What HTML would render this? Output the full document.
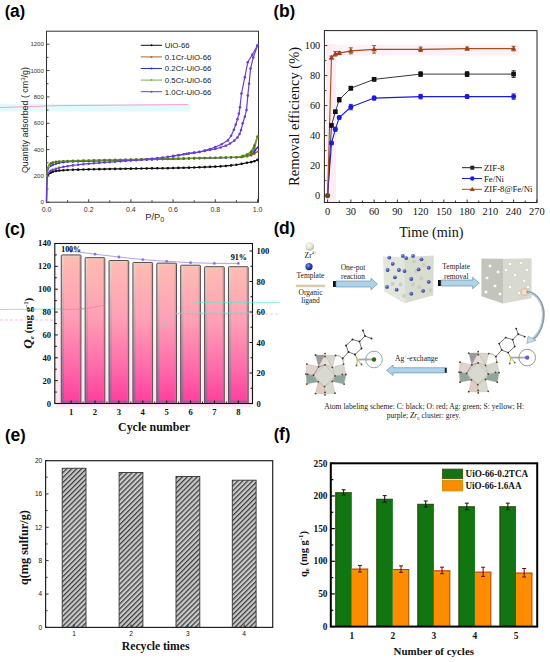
<!DOCTYPE html>
<html><head><meta charset="utf-8"><title>Figure</title><style>
html,body{margin:0;padding:0;background:#fff;}
svg{display:block;}
.s{font-family:"Liberation Sans",sans-serif;}
.lb{font-family:"Liberation Sans",sans-serif;font-weight:bold;}
.r{font-family:"Liberation Serif",serif;}
.rb{font-family:"Liberation Serif",serif;font-weight:bold;}
</style></head><body>
<svg width="550" height="662" viewBox="0 0 550 662">
<rect width="550" height="662" fill="#fff"/>
<defs>
<linearGradient id="cbar" x1="0" y1="0" x2="0" y2="1"><stop offset="0" stop-color="#febcb2"/><stop offset="0.4" stop-color="#ffa0b6"/><stop offset="0.75" stop-color="#ff6aaa"/><stop offset="1" stop-color="#ff3c9e"/></linearGradient>
<linearGradient id="cedge" x1="0" y1="0" x2="0" y2="1"><stop offset="0" stop-color="#e6d4c8"/><stop offset="0.5" stop-color="#c09aa8"/><stop offset="1" stop-color="#96609a"/></linearGradient>
<linearGradient id="cbg" x1="0" y1="0" x2="0" y2="1"><stop offset="0" stop-color="#ffffff"/><stop offset="0.5" stop-color="#fff6fa"/><stop offset="1" stop-color="#fde0f0"/></linearGradient>
<radialGradient id="gzr" cx="0.4" cy="0.35" r="0.7"><stop offset="0" stop-color="#fbfbf2"/><stop offset="0.6" stop-color="#e2e0cc"/><stop offset="1" stop-color="#a8a690"/></radialGradient>
<radialGradient id="gbl" cx="0.4" cy="0.35" r="0.7"><stop offset="0" stop-color="#7a9aff"/><stop offset="0.5" stop-color="#2a48b8"/><stop offset="1" stop-color="#0a1a60"/></radialGradient>
<radialGradient id="gbl2" cx="0.4" cy="0.35" r="0.7"><stop offset="0" stop-color="#98a8f0"/><stop offset="0.5" stop-color="#4858b4"/><stop offset="1" stop-color="#2a3480"/></radialGradient>
<pattern id="hatch" patternUnits="userSpaceOnUse" width="3.5" height="3.5" patternTransform="rotate(45)"><rect width="3.5" height="3.5" fill="#cacaca"/><rect width="1.25" height="3.5" fill="#3c3c3c"/></pattern>
</defs>
<text class="lb" x="4.7" y="17" font-size="16.2">(<tspan font-size="17.5">a</tspan>)</text>
<text class="lb" x="273.6" y="17.4" font-size="16.2">(<tspan font-size="17.5">b</tspan>)</text>
<text class="lb" x="4.7" y="234.5" font-size="16.2">(<tspan font-size="17.5">c</tspan>)</text>
<text class="lb" x="273.7" y="234.4" font-size="16.2">(<tspan font-size="17.5">d</tspan>)</text>
<text class="lb" x="5.1" y="440.5" font-size="16.2">(<tspan font-size="17.5">e</tspan>)</text>
<text class="lb" x="273.7" y="440.3" font-size="16.2">(<tspan font-size="17.5">f</tspan>)</text>
<rect x="0" y="104" width="190" height="7.6" fill="#e2fafa"/>
<polyline points="0,107.6 30,106.5 60,105.6 188,104.6" fill="none" stroke="#ff9ad8" stroke-width="1"/>
<rect x="46.5" y="31.2" width="212" height="171" fill="none" stroke="#333" stroke-width="1"/>
<line x1="46.5" y1="202.3" x2="49.5" y2="202.3" stroke="#333" stroke-width="0.9"/>
<line x1="46.5" y1="189.12" x2="48.5" y2="189.12" stroke="#333" stroke-width="0.9"/>
<line x1="46.5" y1="175.95" x2="49.5" y2="175.95" stroke="#333" stroke-width="0.9"/>
<line x1="46.5" y1="162.78" x2="48.5" y2="162.78" stroke="#333" stroke-width="0.9"/>
<line x1="46.5" y1="149.6" x2="49.5" y2="149.6" stroke="#333" stroke-width="0.9"/>
<line x1="46.5" y1="136.43" x2="48.5" y2="136.43" stroke="#333" stroke-width="0.9"/>
<line x1="46.5" y1="123.25" x2="49.5" y2="123.25" stroke="#333" stroke-width="0.9"/>
<line x1="46.5" y1="110.08" x2="48.5" y2="110.08" stroke="#333" stroke-width="0.9"/>
<line x1="46.5" y1="96.9" x2="49.5" y2="96.9" stroke="#333" stroke-width="0.9"/>
<line x1="46.5" y1="83.73" x2="48.5" y2="83.73" stroke="#333" stroke-width="0.9"/>
<line x1="46.5" y1="70.55" x2="49.5" y2="70.55" stroke="#333" stroke-width="0.9"/>
<line x1="46.5" y1="57.38" x2="48.5" y2="57.38" stroke="#333" stroke-width="0.9"/>
<line x1="46.5" y1="44.2" x2="49.5" y2="44.2" stroke="#333" stroke-width="0.9"/>
<line x1="46.5" y1="202.2" x2="46.5" y2="199.2" stroke="#333" stroke-width="0.9"/>
<line x1="67.6" y1="202.2" x2="67.6" y2="200.2" stroke="#333" stroke-width="0.9"/>
<line x1="88.7" y1="202.2" x2="88.7" y2="199.2" stroke="#333" stroke-width="0.9"/>
<line x1="109.8" y1="202.2" x2="109.8" y2="200.2" stroke="#333" stroke-width="0.9"/>
<line x1="130.9" y1="202.2" x2="130.9" y2="199.2" stroke="#333" stroke-width="0.9"/>
<line x1="152" y1="202.2" x2="152" y2="200.2" stroke="#333" stroke-width="0.9"/>
<line x1="173.1" y1="202.2" x2="173.1" y2="199.2" stroke="#333" stroke-width="0.9"/>
<line x1="194.2" y1="202.2" x2="194.2" y2="200.2" stroke="#333" stroke-width="0.9"/>
<line x1="215.3" y1="202.2" x2="215.3" y2="199.2" stroke="#333" stroke-width="0.9"/>
<line x1="236.4" y1="202.2" x2="236.4" y2="200.2" stroke="#333" stroke-width="0.9"/>
<line x1="257.5" y1="202.2" x2="257.5" y2="199.2" stroke="#333" stroke-width="0.9"/>
<text class="s" x="43.8" y="204.4" font-size="6" text-anchor="end" fill="#333">0</text>
<text class="s" x="43.8" y="178.05" font-size="6" text-anchor="end" fill="#333">200</text>
<text class="s" x="43.8" y="151.7" font-size="6" text-anchor="end" fill="#333">400</text>
<text class="s" x="43.8" y="125.35" font-size="6" text-anchor="end" fill="#333">600</text>
<text class="s" x="43.8" y="99" font-size="6" text-anchor="end" fill="#333">800</text>
<text class="s" x="43.8" y="72.65" font-size="6" text-anchor="end" fill="#333">1000</text>
<text class="s" x="43.8" y="46.3" font-size="6" text-anchor="end" fill="#333">1200</text>
<text class="s" x="46.5" y="212" font-size="7" text-anchor="middle" fill="#333">0.0</text>
<text class="s" x="88.7" y="212" font-size="7" text-anchor="middle" fill="#333">0.2</text>
<text class="s" x="130.9" y="212" font-size="7" text-anchor="middle" fill="#333">0.4</text>
<text class="s" x="173.1" y="212" font-size="7" text-anchor="middle" fill="#333">0.6</text>
<text class="s" x="215.3" y="212" font-size="7" text-anchor="middle" fill="#333">0.8</text>
<text class="s" x="257.5" y="212" font-size="7" text-anchor="middle" fill="#333">1.0</text>
<text class="s" x="145.2" y="219.7" font-size="9.4" fill="#2a2a2a">P/P<tspan font-size="7" dy="2.6">0</tspan></text>
<text class="s" x="28.1" y="120.1" font-size="8.9" text-anchor="middle" fill="#1a1a1a" textLength="106" lengthAdjust="spacingAndGlyphs" transform="rotate(-90 28.1 120.1)">Quantity adsorbed ( cm<tspan font-size="6" dy="-3">3</tspan><tspan dy="3">/g)</tspan></text>
<polyline points="46.5,202.3 46.71,186.49 47.13,179.24 47.77,175.95 49.03,173.97 50.72,172.66 52.83,171.73 55.99,170.94 59.16,170.55 63.38,170.28 67.6,170.02 72.88,169.76 78.15,169.63 83.42,169.49 88.7,169.36 93.97,169.23 99.25,169.16 104.53,169.1 109.8,168.97 115.08,168.9 120.35,168.84 125.62,168.7 130.9,168.64 136.18,168.57 141.45,168.51 146.72,168.44 152,168.37 157.28,168.31 162.55,168.24 167.82,168.18 173.1,168.05 178.38,167.91 183.65,167.78 188.93,167.65 194.2,167.52 199.47,167.32 204.75,167.12 210.03,166.86 215.3,166.6 220.57,166.33 225.85,165.94 231.12,165.41 236.4,164.75 241.68,163.83 246.95,162.78 251.17,162.12 254.34,161.19 257.5,159.88" fill="none" stroke="#111" stroke-width="1.2"/>
<circle cx="50.72" cy="172.66" r="1.3" fill="#111"/>
<circle cx="52.83" cy="171.73" r="1.3" fill="#111"/>
<circle cx="55.99" cy="170.94" r="1.3" fill="#111"/>
<circle cx="59.16" cy="170.55" r="1.3" fill="#111"/>
<circle cx="63.38" cy="170.28" r="1.3" fill="#111"/>
<circle cx="67.6" cy="170.02" r="1.3" fill="#111"/>
<circle cx="72.88" cy="169.76" r="1.3" fill="#111"/>
<circle cx="78.15" cy="169.63" r="1.3" fill="#111"/>
<circle cx="83.42" cy="169.49" r="1.3" fill="#111"/>
<circle cx="88.7" cy="169.36" r="1.3" fill="#111"/>
<circle cx="93.97" cy="169.23" r="1.3" fill="#111"/>
<circle cx="99.25" cy="169.16" r="1.3" fill="#111"/>
<circle cx="104.53" cy="169.1" r="1.3" fill="#111"/>
<circle cx="109.8" cy="168.97" r="1.3" fill="#111"/>
<circle cx="115.08" cy="168.9" r="1.3" fill="#111"/>
<circle cx="120.35" cy="168.84" r="1.3" fill="#111"/>
<circle cx="125.62" cy="168.7" r="1.3" fill="#111"/>
<circle cx="130.9" cy="168.64" r="1.3" fill="#111"/>
<circle cx="136.18" cy="168.57" r="1.3" fill="#111"/>
<circle cx="141.45" cy="168.51" r="1.3" fill="#111"/>
<circle cx="146.72" cy="168.44" r="1.3" fill="#111"/>
<circle cx="152" cy="168.37" r="1.3" fill="#111"/>
<circle cx="157.28" cy="168.31" r="1.3" fill="#111"/>
<circle cx="162.55" cy="168.24" r="1.3" fill="#111"/>
<circle cx="167.82" cy="168.18" r="1.3" fill="#111"/>
<circle cx="173.1" cy="168.05" r="1.3" fill="#111"/>
<circle cx="178.38" cy="167.91" r="1.3" fill="#111"/>
<circle cx="183.65" cy="167.78" r="1.3" fill="#111"/>
<circle cx="188.93" cy="167.65" r="1.3" fill="#111"/>
<circle cx="194.2" cy="167.52" r="1.3" fill="#111"/>
<circle cx="199.47" cy="167.32" r="1.3" fill="#111"/>
<circle cx="204.75" cy="167.12" r="1.3" fill="#111"/>
<circle cx="210.03" cy="166.86" r="1.3" fill="#111"/>
<circle cx="215.3" cy="166.6" r="1.3" fill="#111"/>
<circle cx="220.57" cy="166.33" r="1.3" fill="#111"/>
<circle cx="225.85" cy="165.94" r="1.3" fill="#111"/>
<circle cx="231.12" cy="165.41" r="1.3" fill="#111"/>
<circle cx="236.4" cy="164.75" r="1.3" fill="#111"/>
<circle cx="241.68" cy="163.83" r="1.3" fill="#111"/>
<circle cx="246.95" cy="162.78" r="1.3" fill="#111"/>
<circle cx="251.17" cy="162.12" r="1.3" fill="#111"/>
<circle cx="254.34" cy="161.19" r="1.3" fill="#111"/>
<circle cx="257.5" cy="159.88" r="1.3" fill="#111"/>
<polyline points="46.5,202.3 46.71,182.54 47.13,173.31 47.77,168.31 49.03,165.41 50.72,163.83 52.83,162.91 55.99,162.25 59.16,161.85 63.38,161.59 67.6,161.33 72.88,161.2 78.15,161.08 83.43,160.95 88.7,160.83 93.97,160.7 99.25,160.57 104.53,160.45 109.8,160.32 115.08,160.2 120.35,160.07 125.62,159.95 130.9,159.82 136.18,159.7 141.45,159.57 146.72,159.45 152,159.32 157.28,159.2 162.55,159.07 167.83,158.95 173.1,158.82 178.38,158.7 183.65,158.57 188.93,158.45 194.2,158.32 199.47,158.2 204.75,158.07 210.03,157.95 215.3,157.82 220.58,157.7 225.85,157.57 231.12,157.45 236.4,157.32 241.68,157.11 246.95,156.45 251.17,155.53 254.34,154.21 257.5,151.58 254.34,153.29 251.17,154.61 246.95,155.92" fill="none" stroke="#b5651d" stroke-width="1"/>
<circle cx="50.72" cy="163.83" r="1.1" fill="#b5651d"/>
<circle cx="52.83" cy="162.91" r="1.1" fill="#b5651d"/>
<circle cx="55.99" cy="162.25" r="1.1" fill="#b5651d"/>
<circle cx="59.16" cy="161.85" r="1.1" fill="#b5651d"/>
<circle cx="63.38" cy="161.59" r="1.1" fill="#b5651d"/>
<circle cx="67.6" cy="161.33" r="1.1" fill="#b5651d"/>
<circle cx="72.88" cy="161.2" r="1.1" fill="#b5651d"/>
<circle cx="78.15" cy="161.08" r="1.1" fill="#b5651d"/>
<circle cx="83.43" cy="160.95" r="1.1" fill="#b5651d"/>
<circle cx="88.7" cy="160.83" r="1.1" fill="#b5651d"/>
<circle cx="93.97" cy="160.7" r="1.1" fill="#b5651d"/>
<circle cx="99.25" cy="160.57" r="1.1" fill="#b5651d"/>
<circle cx="104.53" cy="160.45" r="1.1" fill="#b5651d"/>
<circle cx="109.8" cy="160.32" r="1.1" fill="#b5651d"/>
<circle cx="115.08" cy="160.2" r="1.1" fill="#b5651d"/>
<circle cx="120.35" cy="160.07" r="1.1" fill="#b5651d"/>
<circle cx="125.62" cy="159.95" r="1.1" fill="#b5651d"/>
<circle cx="130.9" cy="159.82" r="1.1" fill="#b5651d"/>
<circle cx="136.18" cy="159.7" r="1.1" fill="#b5651d"/>
<circle cx="141.45" cy="159.57" r="1.1" fill="#b5651d"/>
<circle cx="146.72" cy="159.45" r="1.1" fill="#b5651d"/>
<circle cx="152" cy="159.32" r="1.1" fill="#b5651d"/>
<circle cx="157.28" cy="159.2" r="1.1" fill="#b5651d"/>
<circle cx="162.55" cy="159.07" r="1.1" fill="#b5651d"/>
<circle cx="167.83" cy="158.95" r="1.1" fill="#b5651d"/>
<circle cx="173.1" cy="158.82" r="1.1" fill="#b5651d"/>
<circle cx="178.38" cy="158.7" r="1.1" fill="#b5651d"/>
<circle cx="183.65" cy="158.57" r="1.1" fill="#b5651d"/>
<circle cx="188.93" cy="158.45" r="1.1" fill="#b5651d"/>
<circle cx="194.2" cy="158.32" r="1.1" fill="#b5651d"/>
<circle cx="199.47" cy="158.2" r="1.1" fill="#b5651d"/>
<circle cx="204.75" cy="158.07" r="1.1" fill="#b5651d"/>
<circle cx="210.03" cy="157.95" r="1.1" fill="#b5651d"/>
<circle cx="215.3" cy="157.82" r="1.1" fill="#b5651d"/>
<circle cx="220.58" cy="157.7" r="1.1" fill="#b5651d"/>
<circle cx="225.85" cy="157.57" r="1.1" fill="#b5651d"/>
<circle cx="231.12" cy="157.45" r="1.1" fill="#b5651d"/>
<circle cx="236.4" cy="157.32" r="1.1" fill="#b5651d"/>
<circle cx="241.68" cy="157.11" r="1.1" fill="#b5651d"/>
<circle cx="246.95" cy="156.45" r="1.1" fill="#b5651d"/>
<circle cx="251.17" cy="155.53" r="1.1" fill="#b5651d"/>
<circle cx="254.34" cy="154.21" r="1.1" fill="#b5651d"/>
<circle cx="257.5" cy="151.58" r="1.1" fill="#b5651d"/>
<circle cx="254.34" cy="153.29" r="1.1" fill="#b5651d"/>
<circle cx="251.17" cy="154.61" r="1.1" fill="#b5651d"/>
<circle cx="246.95" cy="155.92" r="1.1" fill="#b5651d"/>
<polyline points="46.5,202.3 46.71,183.86 47.13,175.29 47.77,170.68 49.03,167.78 50.72,166.07 52.83,164.88 55.99,163.83 59.16,163.04 63.38,162.38 67.6,161.85 72.88,161.71 78.15,161.58 83.43,161.44 88.7,161.3 93.97,161.16 99.25,161.02 104.53,160.88 109.8,160.75 115.08,160.61 120.35,160.47 125.62,160.33 130.9,160.19 136.18,160.05 141.45,159.92 146.72,159.78 152,159.64 157.28,159.5 162.55,159.36 167.83,159.22 173.1,159.09 178.38,158.95 183.65,158.81 188.93,158.67 194.2,158.53 199.47,158.39 204.75,158.26 210.03,158.12 215.3,157.98 220.58,157.84 225.85,157.7 231.12,157.56 236.4,157.43 241.68,157.11 246.95,156.19 251.17,154.61 254.34,152.24 257.5,147.62 254.34,150.65 251.17,153.29 246.95,155.13" fill="none" stroke="#3030c8" stroke-width="1"/>
<circle cx="50.72" cy="166.07" r="1.1" fill="#3030c8"/>
<circle cx="52.83" cy="164.88" r="1.1" fill="#3030c8"/>
<circle cx="55.99" cy="163.83" r="1.1" fill="#3030c8"/>
<circle cx="59.16" cy="163.04" r="1.1" fill="#3030c8"/>
<circle cx="63.38" cy="162.38" r="1.1" fill="#3030c8"/>
<circle cx="67.6" cy="161.85" r="1.1" fill="#3030c8"/>
<circle cx="72.88" cy="161.71" r="1.1" fill="#3030c8"/>
<circle cx="78.15" cy="161.58" r="1.1" fill="#3030c8"/>
<circle cx="83.43" cy="161.44" r="1.1" fill="#3030c8"/>
<circle cx="88.7" cy="161.3" r="1.1" fill="#3030c8"/>
<circle cx="93.97" cy="161.16" r="1.1" fill="#3030c8"/>
<circle cx="99.25" cy="161.02" r="1.1" fill="#3030c8"/>
<circle cx="104.53" cy="160.88" r="1.1" fill="#3030c8"/>
<circle cx="109.8" cy="160.75" r="1.1" fill="#3030c8"/>
<circle cx="115.08" cy="160.61" r="1.1" fill="#3030c8"/>
<circle cx="120.35" cy="160.47" r="1.1" fill="#3030c8"/>
<circle cx="125.62" cy="160.33" r="1.1" fill="#3030c8"/>
<circle cx="130.9" cy="160.19" r="1.1" fill="#3030c8"/>
<circle cx="136.18" cy="160.05" r="1.1" fill="#3030c8"/>
<circle cx="141.45" cy="159.92" r="1.1" fill="#3030c8"/>
<circle cx="146.72" cy="159.78" r="1.1" fill="#3030c8"/>
<circle cx="152" cy="159.64" r="1.1" fill="#3030c8"/>
<circle cx="157.28" cy="159.5" r="1.1" fill="#3030c8"/>
<circle cx="162.55" cy="159.36" r="1.1" fill="#3030c8"/>
<circle cx="167.83" cy="159.22" r="1.1" fill="#3030c8"/>
<circle cx="173.1" cy="159.09" r="1.1" fill="#3030c8"/>
<circle cx="178.38" cy="158.95" r="1.1" fill="#3030c8"/>
<circle cx="183.65" cy="158.81" r="1.1" fill="#3030c8"/>
<circle cx="188.93" cy="158.67" r="1.1" fill="#3030c8"/>
<circle cx="194.2" cy="158.53" r="1.1" fill="#3030c8"/>
<circle cx="199.47" cy="158.39" r="1.1" fill="#3030c8"/>
<circle cx="204.75" cy="158.26" r="1.1" fill="#3030c8"/>
<circle cx="210.03" cy="158.12" r="1.1" fill="#3030c8"/>
<circle cx="215.3" cy="157.98" r="1.1" fill="#3030c8"/>
<circle cx="220.58" cy="157.84" r="1.1" fill="#3030c8"/>
<circle cx="225.85" cy="157.7" r="1.1" fill="#3030c8"/>
<circle cx="231.12" cy="157.56" r="1.1" fill="#3030c8"/>
<circle cx="236.4" cy="157.43" r="1.1" fill="#3030c8"/>
<circle cx="241.68" cy="157.11" r="1.1" fill="#3030c8"/>
<circle cx="246.95" cy="156.19" r="1.1" fill="#3030c8"/>
<circle cx="251.17" cy="154.61" r="1.1" fill="#3030c8"/>
<circle cx="254.34" cy="152.24" r="1.1" fill="#3030c8"/>
<circle cx="257.5" cy="147.62" r="1.1" fill="#3030c8"/>
<circle cx="254.34" cy="150.65" r="1.1" fill="#3030c8"/>
<circle cx="251.17" cy="153.29" r="1.1" fill="#3030c8"/>
<circle cx="246.95" cy="155.13" r="1.1" fill="#3030c8"/>
<polyline points="46.5,202.3 46.71,181.22 47.13,172 47.77,167.39 49.03,164.75 50.72,163.43 52.83,162.51 55.99,161.85 59.16,161.46 63.38,161.19 67.6,160.93 72.88,160.82 78.15,160.7 83.43,160.58 88.7,160.47 93.97,160.35 99.25,160.24 104.53,160.12 109.8,160.01 115.08,159.89 120.35,159.78 125.62,159.66 130.9,159.55 136.18,159.43 141.45,159.32 146.72,159.2 152,159.09 157.28,158.97 162.55,158.86 167.83,158.74 173.1,158.62 178.38,158.51 183.65,158.39 188.93,158.28 194.2,158.16 199.47,158.05 204.75,157.93 210.03,157.82 215.3,157.7 220.58,157.59 225.85,157.47 231.12,157.36 236.4,157.24 241.68,156.85 246.95,155.92 251.17,154.21 254.34,148.28 257.5,136.43 254.34,145.65 251.17,151.58 246.95,154.61 242.73,155.92" fill="none" stroke="#6a9c2c" stroke-width="1.5"/>
<circle cx="50.72" cy="163.43" r="1.3" fill="#56781c"/>
<circle cx="52.83" cy="162.51" r="1.3" fill="#56781c"/>
<circle cx="55.99" cy="161.85" r="1.3" fill="#56781c"/>
<circle cx="59.16" cy="161.46" r="1.3" fill="#56781c"/>
<circle cx="63.38" cy="161.19" r="1.3" fill="#56781c"/>
<circle cx="67.6" cy="160.93" r="1.3" fill="#56781c"/>
<circle cx="72.88" cy="160.82" r="1.3" fill="#56781c"/>
<circle cx="78.15" cy="160.7" r="1.3" fill="#56781c"/>
<circle cx="83.43" cy="160.58" r="1.3" fill="#56781c"/>
<circle cx="88.7" cy="160.47" r="1.3" fill="#56781c"/>
<circle cx="93.97" cy="160.35" r="1.3" fill="#56781c"/>
<circle cx="99.25" cy="160.24" r="1.3" fill="#56781c"/>
<circle cx="104.53" cy="160.12" r="1.3" fill="#56781c"/>
<circle cx="109.8" cy="160.01" r="1.3" fill="#56781c"/>
<circle cx="115.08" cy="159.89" r="1.3" fill="#56781c"/>
<circle cx="120.35" cy="159.78" r="1.3" fill="#56781c"/>
<circle cx="125.62" cy="159.66" r="1.3" fill="#56781c"/>
<circle cx="130.9" cy="159.55" r="1.3" fill="#56781c"/>
<circle cx="136.18" cy="159.43" r="1.3" fill="#56781c"/>
<circle cx="141.45" cy="159.32" r="1.3" fill="#56781c"/>
<circle cx="146.72" cy="159.2" r="1.3" fill="#56781c"/>
<circle cx="152" cy="159.09" r="1.3" fill="#56781c"/>
<circle cx="157.28" cy="158.97" r="1.3" fill="#56781c"/>
<circle cx="162.55" cy="158.86" r="1.3" fill="#56781c"/>
<circle cx="167.83" cy="158.74" r="1.3" fill="#56781c"/>
<circle cx="173.1" cy="158.62" r="1.3" fill="#56781c"/>
<circle cx="178.38" cy="158.51" r="1.3" fill="#56781c"/>
<circle cx="183.65" cy="158.39" r="1.3" fill="#56781c"/>
<circle cx="188.93" cy="158.28" r="1.3" fill="#56781c"/>
<circle cx="194.2" cy="158.16" r="1.3" fill="#56781c"/>
<circle cx="199.47" cy="158.05" r="1.3" fill="#56781c"/>
<circle cx="204.75" cy="157.93" r="1.3" fill="#56781c"/>
<circle cx="210.03" cy="157.82" r="1.3" fill="#56781c"/>
<circle cx="215.3" cy="157.7" r="1.3" fill="#56781c"/>
<circle cx="220.58" cy="157.59" r="1.3" fill="#56781c"/>
<circle cx="225.85" cy="157.47" r="1.3" fill="#56781c"/>
<circle cx="231.12" cy="157.36" r="1.3" fill="#56781c"/>
<circle cx="236.4" cy="157.24" r="1.3" fill="#56781c"/>
<circle cx="241.68" cy="156.85" r="1.3" fill="#56781c"/>
<circle cx="246.95" cy="155.92" r="1.3" fill="#56781c"/>
<circle cx="251.17" cy="154.21" r="1.3" fill="#56781c"/>
<circle cx="254.34" cy="148.28" r="1.3" fill="#56781c"/>
<circle cx="257.5" cy="136.43" r="1.3" fill="#56781c"/>
<circle cx="254.34" cy="145.65" r="1.3" fill="#56781c"/>
<circle cx="251.17" cy="151.58" r="1.3" fill="#56781c"/>
<circle cx="246.95" cy="154.61" r="1.3" fill="#56781c"/>
<circle cx="242.73" cy="155.92" r="1.3" fill="#56781c"/>
<polyline points="46.5,202.3 46.71,185.17 47.13,177.27 47.77,173.97 49.03,172 50.72,170.68 52.83,169.76 55.99,168.7 59.16,167.78 63.38,166.86 67.6,166.2 72.88,165.41 78.15,164.75 83.42,164.22 88.7,163.7 93.97,163.3 99.25,162.91 104.53,162.51 109.8,162.12 115.08,161.72 120.35,161.33 125.62,160.93 130.9,160.54 136.18,160.14 141.45,159.74 146.72,159.22 152,158.69 157.28,158.16 162.55,157.5 167.82,156.85 173.1,156.19 178.38,155.27 183.65,154.34 188.93,153.42 194.2,152.5 199.47,151.84 204.75,150.92 210.03,149.86 215.3,148.81 220.57,147.49 225.85,145.78 230.07,143.54 234.29,140.64 237.46,137.48 239.56,134.05 241.04,130.1 242.73,123.25 244.84,116.66 246.53,110.08 247.79,95.58 249.06,83.73 250.54,68.57 253.28,57.38 257.5,45.52" fill="none" stroke="#6a3fd0" stroke-width="1.2"/>
<circle cx="50.72" cy="170.68" r="1.3" fill="#6a3fd0"/>
<circle cx="52.83" cy="169.76" r="1.3" fill="#6a3fd0"/>
<circle cx="55.99" cy="168.7" r="1.3" fill="#6a3fd0"/>
<circle cx="59.16" cy="167.78" r="1.3" fill="#6a3fd0"/>
<circle cx="63.38" cy="166.86" r="1.3" fill="#6a3fd0"/>
<circle cx="67.6" cy="166.2" r="1.3" fill="#6a3fd0"/>
<circle cx="72.88" cy="165.41" r="1.3" fill="#6a3fd0"/>
<circle cx="78.15" cy="164.75" r="1.3" fill="#6a3fd0"/>
<circle cx="83.42" cy="164.22" r="1.3" fill="#6a3fd0"/>
<circle cx="88.7" cy="163.7" r="1.3" fill="#6a3fd0"/>
<circle cx="93.97" cy="163.3" r="1.3" fill="#6a3fd0"/>
<circle cx="99.25" cy="162.91" r="1.3" fill="#6a3fd0"/>
<circle cx="104.53" cy="162.51" r="1.3" fill="#6a3fd0"/>
<circle cx="109.8" cy="162.12" r="1.3" fill="#6a3fd0"/>
<circle cx="115.08" cy="161.72" r="1.3" fill="#6a3fd0"/>
<circle cx="120.35" cy="161.33" r="1.3" fill="#6a3fd0"/>
<circle cx="125.62" cy="160.93" r="1.3" fill="#6a3fd0"/>
<circle cx="130.9" cy="160.54" r="1.3" fill="#6a3fd0"/>
<circle cx="136.18" cy="160.14" r="1.3" fill="#6a3fd0"/>
<circle cx="141.45" cy="159.74" r="1.3" fill="#6a3fd0"/>
<circle cx="146.72" cy="159.22" r="1.3" fill="#6a3fd0"/>
<circle cx="152" cy="158.69" r="1.3" fill="#6a3fd0"/>
<circle cx="157.28" cy="158.16" r="1.3" fill="#6a3fd0"/>
<circle cx="162.55" cy="157.5" r="1.3" fill="#6a3fd0"/>
<circle cx="167.82" cy="156.85" r="1.3" fill="#6a3fd0"/>
<circle cx="173.1" cy="156.19" r="1.3" fill="#6a3fd0"/>
<circle cx="178.38" cy="155.27" r="1.3" fill="#6a3fd0"/>
<circle cx="183.65" cy="154.34" r="1.3" fill="#6a3fd0"/>
<circle cx="188.93" cy="153.42" r="1.3" fill="#6a3fd0"/>
<circle cx="194.2" cy="152.5" r="1.3" fill="#6a3fd0"/>
<circle cx="199.47" cy="151.84" r="1.3" fill="#6a3fd0"/>
<circle cx="204.75" cy="150.92" r="1.3" fill="#6a3fd0"/>
<circle cx="210.03" cy="149.86" r="1.3" fill="#6a3fd0"/>
<circle cx="215.3" cy="148.81" r="1.3" fill="#6a3fd0"/>
<circle cx="220.57" cy="147.49" r="1.3" fill="#6a3fd0"/>
<circle cx="225.85" cy="145.78" r="1.3" fill="#6a3fd0"/>
<circle cx="230.07" cy="143.54" r="1.3" fill="#6a3fd0"/>
<circle cx="234.29" cy="140.64" r="1.3" fill="#6a3fd0"/>
<circle cx="237.46" cy="137.48" r="1.3" fill="#6a3fd0"/>
<circle cx="239.56" cy="134.05" r="1.3" fill="#6a3fd0"/>
<circle cx="241.04" cy="130.1" r="1.3" fill="#6a3fd0"/>
<circle cx="242.73" cy="123.25" r="1.3" fill="#6a3fd0"/>
<circle cx="244.84" cy="116.66" r="1.3" fill="#6a3fd0"/>
<circle cx="246.53" cy="110.08" r="1.3" fill="#6a3fd0"/>
<circle cx="247.79" cy="95.58" r="1.3" fill="#6a3fd0"/>
<circle cx="249.06" cy="83.73" r="1.3" fill="#6a3fd0"/>
<circle cx="250.54" cy="68.57" r="1.3" fill="#6a3fd0"/>
<circle cx="253.28" cy="57.38" r="1.3" fill="#6a3fd0"/>
<circle cx="257.5" cy="45.52" r="1.3" fill="#6a3fd0"/>
<polyline points="257.5,45.52 252.22,54.74 247.79,62.25 244.84,77.14 241.46,93.47 239.99,107.18 238.93,113.63 237.46,119.17 235.77,124.57 233.87,129.84 231.12,135.77 227.96,140.38 221.63,144.2 215.3,146.97 210.03,148.94 204.75,150.65 199.47,151.97 194.2,152.89 186.81,153.82 178.38,155.13 173.1,155.92" fill="none" stroke="#6a3fd0" stroke-width="1.2"/>
<circle cx="257.5" cy="45.52" r="1.3" fill="#6a3fd0"/>
<circle cx="252.22" cy="54.74" r="1.3" fill="#6a3fd0"/>
<circle cx="247.79" cy="62.25" r="1.3" fill="#6a3fd0"/>
<circle cx="244.84" cy="77.14" r="1.3" fill="#6a3fd0"/>
<circle cx="241.46" cy="93.47" r="1.3" fill="#6a3fd0"/>
<circle cx="239.99" cy="107.18" r="1.3" fill="#6a3fd0"/>
<circle cx="238.93" cy="113.63" r="1.3" fill="#6a3fd0"/>
<circle cx="237.46" cy="119.17" r="1.3" fill="#6a3fd0"/>
<circle cx="235.77" cy="124.57" r="1.3" fill="#6a3fd0"/>
<circle cx="233.87" cy="129.84" r="1.3" fill="#6a3fd0"/>
<circle cx="231.12" cy="135.77" r="1.3" fill="#6a3fd0"/>
<circle cx="227.96" cy="140.38" r="1.3" fill="#6a3fd0"/>
<circle cx="221.63" cy="144.2" r="1.3" fill="#6a3fd0"/>
<circle cx="215.3" cy="146.97" r="1.3" fill="#6a3fd0"/>
<circle cx="210.03" cy="148.94" r="1.3" fill="#6a3fd0"/>
<circle cx="204.75" cy="150.65" r="1.3" fill="#6a3fd0"/>
<circle cx="199.47" cy="151.97" r="1.3" fill="#6a3fd0"/>
<circle cx="194.2" cy="152.89" r="1.3" fill="#6a3fd0"/>
<circle cx="186.81" cy="153.82" r="1.3" fill="#6a3fd0"/>
<circle cx="178.38" cy="155.13" r="1.3" fill="#6a3fd0"/>
<circle cx="173.1" cy="155.92" r="1.3" fill="#6a3fd0"/>
<line x1="140.8" y1="45.3" x2="162" y2="45.3" stroke="#111" stroke-width="1"/>
<circle cx="151.5" cy="45.3" r="1" fill="#111"/>
<text class="s" x="164.8" y="48.2" font-size="7.85" fill="#222">UiO-66</text>
<line x1="140.8" y1="56.9" x2="162" y2="56.9" stroke="#b5651d" stroke-width="1"/>
<circle cx="151.5" cy="56.9" r="1" fill="#b5651d"/>
<text class="s" x="164.8" y="59.8" font-size="7.85" fill="#222">0.1Cr-UiO-66</text>
<line x1="140.8" y1="68.5" x2="162" y2="68.5" stroke="#3030c8" stroke-width="1"/>
<circle cx="151.5" cy="68.5" r="1" fill="#3030c8"/>
<text class="s" x="164.8" y="71.4" font-size="7.85" fill="#222">0.2Cr-UiO-66</text>
<line x1="140.8" y1="80.1" x2="162" y2="80.1" stroke="#7ab050" stroke-width="1"/>
<circle cx="151.5" cy="80.1" r="1" fill="#7ab050"/>
<text class="s" x="164.8" y="83" font-size="7.85" fill="#222">0.5Cr-UiO-66</text>
<line x1="140.8" y1="91.7" x2="162" y2="91.7" stroke="#6a3fd0" stroke-width="1"/>
<circle cx="151.5" cy="91.7" r="1" fill="#6a3fd0"/>
<text class="s" x="164.8" y="94.6" font-size="7.85" fill="#222">1.0Cr-UiO-66</text>
<rect x="326" y="44.5" width="193" height="11" fill="#fdf0f7"/>
<rect x="326" y="44" width="10" height="158" fill="#fdeef6"/>
<rect x="324.4" y="30.6" width="212.6" height="171.9" fill="none" stroke="#222" stroke-width="1"/>
<line x1="324.4" y1="195.6" x2="327.4" y2="195.6" stroke="#222" stroke-width="0.9"/>
<line x1="324.4" y1="180.6" x2="326.4" y2="180.6" stroke="#222" stroke-width="0.9"/>
<line x1="324.4" y1="165.6" x2="327.4" y2="165.6" stroke="#222" stroke-width="0.9"/>
<line x1="324.4" y1="150.6" x2="326.4" y2="150.6" stroke="#222" stroke-width="0.9"/>
<line x1="324.4" y1="135.6" x2="327.4" y2="135.6" stroke="#222" stroke-width="0.9"/>
<line x1="324.4" y1="120.6" x2="326.4" y2="120.6" stroke="#222" stroke-width="0.9"/>
<line x1="324.4" y1="105.6" x2="327.4" y2="105.6" stroke="#222" stroke-width="0.9"/>
<line x1="324.4" y1="90.6" x2="326.4" y2="90.6" stroke="#222" stroke-width="0.9"/>
<line x1="324.4" y1="75.6" x2="327.4" y2="75.6" stroke="#222" stroke-width="0.9"/>
<line x1="324.4" y1="60.6" x2="326.4" y2="60.6" stroke="#222" stroke-width="0.9"/>
<line x1="324.4" y1="45.6" x2="327.4" y2="45.6" stroke="#222" stroke-width="0.9"/>
<line x1="327.6" y1="202.5" x2="327.6" y2="199.5" stroke="#222" stroke-width="0.9"/>
<line x1="339.23" y1="202.5" x2="339.23" y2="200.5" stroke="#222" stroke-width="0.9"/>
<line x1="350.85" y1="202.5" x2="350.85" y2="199.5" stroke="#222" stroke-width="0.9"/>
<line x1="362.48" y1="202.5" x2="362.48" y2="200.5" stroke="#222" stroke-width="0.9"/>
<line x1="374.1" y1="202.5" x2="374.1" y2="199.5" stroke="#222" stroke-width="0.9"/>
<line x1="385.73" y1="202.5" x2="385.73" y2="200.5" stroke="#222" stroke-width="0.9"/>
<line x1="397.35" y1="202.5" x2="397.35" y2="199.5" stroke="#222" stroke-width="0.9"/>
<line x1="408.98" y1="202.5" x2="408.98" y2="200.5" stroke="#222" stroke-width="0.9"/>
<line x1="420.6" y1="202.5" x2="420.6" y2="199.5" stroke="#222" stroke-width="0.9"/>
<line x1="432.23" y1="202.5" x2="432.23" y2="200.5" stroke="#222" stroke-width="0.9"/>
<line x1="443.85" y1="202.5" x2="443.85" y2="199.5" stroke="#222" stroke-width="0.9"/>
<line x1="455.48" y1="202.5" x2="455.48" y2="200.5" stroke="#222" stroke-width="0.9"/>
<line x1="467.1" y1="202.5" x2="467.1" y2="199.5" stroke="#222" stroke-width="0.9"/>
<line x1="478.73" y1="202.5" x2="478.73" y2="200.5" stroke="#222" stroke-width="0.9"/>
<line x1="490.35" y1="202.5" x2="490.35" y2="199.5" stroke="#222" stroke-width="0.9"/>
<line x1="501.98" y1="202.5" x2="501.98" y2="200.5" stroke="#222" stroke-width="0.9"/>
<line x1="513.6" y1="202.5" x2="513.6" y2="199.5" stroke="#222" stroke-width="0.9"/>
<line x1="525.23" y1="202.5" x2="525.23" y2="200.5" stroke="#222" stroke-width="0.9"/>
<line x1="536.85" y1="202.5" x2="536.85" y2="199.5" stroke="#222" stroke-width="0.9"/>
<text class="r" x="320.3" y="199.2" font-size="10.4" text-anchor="end" fill="#111">0</text>
<text class="r" x="320.3" y="169.2" font-size="10.4" text-anchor="end" fill="#111">20</text>
<text class="r" x="320.3" y="139.2" font-size="10.4" text-anchor="end" fill="#111">40</text>
<text class="r" x="320.3" y="109.2" font-size="10.4" text-anchor="end" fill="#111">60</text>
<text class="r" x="320.3" y="79.2" font-size="10.4" text-anchor="end" fill="#111">80</text>
<text class="r" x="320.3" y="49.2" font-size="10.4" text-anchor="end" fill="#111">100</text>
<text class="r" x="327.6" y="215.4" font-size="10.4" text-anchor="middle" fill="#111">0</text>
<text class="r" x="350.85" y="215.4" font-size="10.4" text-anchor="middle" fill="#111">30</text>
<text class="r" x="374.1" y="215.4" font-size="10.4" text-anchor="middle" fill="#111">60</text>
<text class="r" x="397.35" y="215.4" font-size="10.4" text-anchor="middle" fill="#111">90</text>
<text class="r" x="420.6" y="215.4" font-size="10.4" text-anchor="middle" fill="#111">120</text>
<text class="r" x="443.85" y="215.4" font-size="10.4" text-anchor="middle" fill="#111">150</text>
<text class="r" x="467.1" y="215.4" font-size="10.4" text-anchor="middle" fill="#111">180</text>
<text class="r" x="490.35" y="215.4" font-size="10.4" text-anchor="middle" fill="#111">210</text>
<text class="r" x="513.6" y="215.4" font-size="10.4" text-anchor="middle" fill="#111">240</text>
<text class="r" x="536.85" y="215.4" font-size="10.4" text-anchor="middle" fill="#111">270</text>
<text class="r" x="299.4" y="116.4" font-size="15" text-anchor="middle" fill="#111" textLength="139" lengthAdjust="spacingAndGlyphs" transform="rotate(-90 299.4 116.4)">Removal efficiency (%)</text>
<text class="r" x="399.2" y="236.7" font-size="15.5" fill="#111" textLength="64.3" lengthAdjust="spacingAndGlyphs">Time (min)</text>
<polyline points="327.6,195.6 331.48,125.4 335.35,111.75 339.23,99.75 350.85,88.2 374.1,79.35 420.6,74.1 467.1,74.1 513.6,74.1" fill="none" stroke="#222" stroke-width="0.9"/>
<polyline points="327.6,195.6 331.48,143.1 335.35,129.3 339.23,117.6 350.85,107.1 374.1,98.1 420.6,96.6 467.1,96.6 513.6,96.6" fill="none" stroke="#1a1ae0" stroke-width="1.1"/>
<polyline points="327.6,195.6 331.48,57.6 335.35,53.85 339.23,53.1 350.85,50.85 374.1,49.35 420.6,49.35 467.1,48.6 513.6,48.6" fill="none" stroke="#a0501a" stroke-width="1.1"/>
<line x1="331.48" y1="123.9" x2="331.48" y2="126.9" stroke="#111" stroke-width="0.9"/>
<line x1="329.48" y1="123.9" x2="333.48" y2="123.9" stroke="#111" stroke-width="0.9"/>
<line x1="329.48" y1="126.9" x2="333.48" y2="126.9" stroke="#111" stroke-width="0.9"/>
<rect x="329.18" y="123.1" width="4.6" height="4.6" fill="#111"/>
<line x1="335.35" y1="110.25" x2="335.35" y2="113.25" stroke="#111" stroke-width="0.9"/>
<line x1="333.35" y1="110.25" x2="337.35" y2="110.25" stroke="#111" stroke-width="0.9"/>
<line x1="333.35" y1="113.25" x2="337.35" y2="113.25" stroke="#111" stroke-width="0.9"/>
<rect x="333.05" y="109.45" width="4.6" height="4.6" fill="#111"/>
<line x1="339.23" y1="97.5" x2="339.23" y2="102" stroke="#111" stroke-width="0.9"/>
<line x1="337.23" y1="97.5" x2="341.23" y2="97.5" stroke="#111" stroke-width="0.9"/>
<line x1="337.23" y1="102" x2="341.23" y2="102" stroke="#111" stroke-width="0.9"/>
<rect x="336.93" y="97.45" width="4.6" height="4.6" fill="#111"/>
<line x1="350.85" y1="86.4" x2="350.85" y2="90" stroke="#111" stroke-width="0.9"/>
<line x1="348.85" y1="86.4" x2="352.85" y2="86.4" stroke="#111" stroke-width="0.9"/>
<line x1="348.85" y1="90" x2="352.85" y2="90" stroke="#111" stroke-width="0.9"/>
<rect x="348.55" y="85.9" width="4.6" height="4.6" fill="#111"/>
<line x1="374.1" y1="77.85" x2="374.1" y2="80.85" stroke="#111" stroke-width="0.9"/>
<line x1="372.1" y1="77.85" x2="376.1" y2="77.85" stroke="#111" stroke-width="0.9"/>
<line x1="372.1" y1="80.85" x2="376.1" y2="80.85" stroke="#111" stroke-width="0.9"/>
<rect x="371.8" y="77.05" width="4.6" height="4.6" fill="#111"/>
<line x1="420.6" y1="71.85" x2="420.6" y2="76.35" stroke="#111" stroke-width="0.9"/>
<line x1="418.6" y1="71.85" x2="422.6" y2="71.85" stroke="#111" stroke-width="0.9"/>
<line x1="418.6" y1="76.35" x2="422.6" y2="76.35" stroke="#111" stroke-width="0.9"/>
<rect x="418.3" y="71.8" width="4.6" height="4.6" fill="#111"/>
<line x1="467.1" y1="71.7" x2="467.1" y2="76.5" stroke="#111" stroke-width="0.9"/>
<line x1="465.1" y1="71.7" x2="469.1" y2="71.7" stroke="#111" stroke-width="0.9"/>
<line x1="465.1" y1="76.5" x2="469.1" y2="76.5" stroke="#111" stroke-width="0.9"/>
<rect x="464.8" y="71.8" width="4.6" height="4.6" fill="#111"/>
<line x1="513.6" y1="70.8" x2="513.6" y2="77.4" stroke="#111" stroke-width="0.9"/>
<line x1="511.6" y1="70.8" x2="515.6" y2="70.8" stroke="#111" stroke-width="0.9"/>
<line x1="511.6" y1="77.4" x2="515.6" y2="77.4" stroke="#111" stroke-width="0.9"/>
<rect x="511.3" y="71.8" width="4.6" height="4.6" fill="#111"/>
<line x1="331.48" y1="141.6" x2="331.48" y2="144.6" stroke="#1a1ae0" stroke-width="0.9"/>
<line x1="329.48" y1="141.6" x2="333.48" y2="141.6" stroke="#1a1ae0" stroke-width="0.9"/>
<line x1="329.48" y1="144.6" x2="333.48" y2="144.6" stroke="#1a1ae0" stroke-width="0.9"/>
<circle cx="331.48" cy="143.1" r="2.5" fill="#1a1ae0"/>
<line x1="335.35" y1="127.35" x2="335.35" y2="131.25" stroke="#1a1ae0" stroke-width="0.9"/>
<line x1="333.35" y1="127.35" x2="337.35" y2="127.35" stroke="#1a1ae0" stroke-width="0.9"/>
<line x1="333.35" y1="131.25" x2="337.35" y2="131.25" stroke="#1a1ae0" stroke-width="0.9"/>
<circle cx="335.35" cy="129.3" r="2.5" fill="#1a1ae0"/>
<line x1="339.23" y1="116.1" x2="339.23" y2="119.1" stroke="#1a1ae0" stroke-width="0.9"/>
<line x1="337.23" y1="116.1" x2="341.23" y2="116.1" stroke="#1a1ae0" stroke-width="0.9"/>
<line x1="337.23" y1="119.1" x2="341.23" y2="119.1" stroke="#1a1ae0" stroke-width="0.9"/>
<circle cx="339.23" cy="117.6" r="2.5" fill="#1a1ae0"/>
<line x1="350.85" y1="104.4" x2="350.85" y2="109.8" stroke="#1a1ae0" stroke-width="0.9"/>
<line x1="348.85" y1="104.4" x2="352.85" y2="104.4" stroke="#1a1ae0" stroke-width="0.9"/>
<line x1="348.85" y1="109.8" x2="352.85" y2="109.8" stroke="#1a1ae0" stroke-width="0.9"/>
<circle cx="350.85" cy="107.1" r="2.5" fill="#1a1ae0"/>
<line x1="374.1" y1="96.15" x2="374.1" y2="100.05" stroke="#1a1ae0" stroke-width="0.9"/>
<line x1="372.1" y1="96.15" x2="376.1" y2="96.15" stroke="#1a1ae0" stroke-width="0.9"/>
<line x1="372.1" y1="100.05" x2="376.1" y2="100.05" stroke="#1a1ae0" stroke-width="0.9"/>
<circle cx="374.1" cy="98.1" r="2.5" fill="#1a1ae0"/>
<line x1="420.6" y1="94.35" x2="420.6" y2="98.85" stroke="#1a1ae0" stroke-width="0.9"/>
<line x1="418.6" y1="94.35" x2="422.6" y2="94.35" stroke="#1a1ae0" stroke-width="0.9"/>
<line x1="418.6" y1="98.85" x2="422.6" y2="98.85" stroke="#1a1ae0" stroke-width="0.9"/>
<circle cx="420.6" cy="96.6" r="2.5" fill="#1a1ae0"/>
<line x1="467.1" y1="94.8" x2="467.1" y2="98.4" stroke="#1a1ae0" stroke-width="0.9"/>
<line x1="465.1" y1="94.8" x2="469.1" y2="94.8" stroke="#1a1ae0" stroke-width="0.9"/>
<line x1="465.1" y1="98.4" x2="469.1" y2="98.4" stroke="#1a1ae0" stroke-width="0.9"/>
<circle cx="467.1" cy="96.6" r="2.5" fill="#1a1ae0"/>
<line x1="513.6" y1="93.9" x2="513.6" y2="99.3" stroke="#1a1ae0" stroke-width="0.9"/>
<line x1="511.6" y1="93.9" x2="515.6" y2="93.9" stroke="#1a1ae0" stroke-width="0.9"/>
<line x1="511.6" y1="99.3" x2="515.6" y2="99.3" stroke="#1a1ae0" stroke-width="0.9"/>
<circle cx="513.6" cy="96.6" r="2.5" fill="#1a1ae0"/>
<circle cx="327.6" cy="195.6" r="2.6" fill="#6b4a1a"/>
<line x1="331.48" y1="56.1" x2="331.48" y2="59.1" stroke="#8a4a1a" stroke-width="0.9"/>
<line x1="329.48" y1="56.1" x2="333.48" y2="56.1" stroke="#8a4a1a" stroke-width="0.9"/>
<line x1="329.48" y1="59.1" x2="333.48" y2="59.1" stroke="#8a4a1a" stroke-width="0.9"/>
<polygon points="331.48,54.8 328.68,59.6 334.28,59.6" fill="#a0401a"/>
<line x1="335.35" y1="51.6" x2="335.35" y2="56.1" stroke="#8a4a1a" stroke-width="0.9"/>
<line x1="333.35" y1="51.6" x2="337.35" y2="51.6" stroke="#8a4a1a" stroke-width="0.9"/>
<line x1="333.35" y1="56.1" x2="337.35" y2="56.1" stroke="#8a4a1a" stroke-width="0.9"/>
<polygon points="335.35,51.05 332.55,55.85 338.15,55.85" fill="#a0401a"/>
<line x1="339.23" y1="51.6" x2="339.23" y2="54.6" stroke="#8a4a1a" stroke-width="0.9"/>
<line x1="337.23" y1="51.6" x2="341.23" y2="51.6" stroke="#8a4a1a" stroke-width="0.9"/>
<line x1="337.23" y1="54.6" x2="341.23" y2="54.6" stroke="#8a4a1a" stroke-width="0.9"/>
<polygon points="339.23,50.3 336.43,55.1 342.03,55.1" fill="#a0401a"/>
<line x1="350.85" y1="47.85" x2="350.85" y2="53.85" stroke="#8a4a1a" stroke-width="0.9"/>
<line x1="348.85" y1="47.85" x2="352.85" y2="47.85" stroke="#8a4a1a" stroke-width="0.9"/>
<line x1="348.85" y1="53.85" x2="352.85" y2="53.85" stroke="#8a4a1a" stroke-width="0.9"/>
<polygon points="350.85,48.05 348.05,52.85 353.65,52.85" fill="#a0401a"/>
<line x1="374.1" y1="45.6" x2="374.1" y2="53.1" stroke="#8a4a1a" stroke-width="0.9"/>
<line x1="372.1" y1="45.6" x2="376.1" y2="45.6" stroke="#8a4a1a" stroke-width="0.9"/>
<line x1="372.1" y1="53.1" x2="376.1" y2="53.1" stroke="#8a4a1a" stroke-width="0.9"/>
<polygon points="374.1,46.55 371.3,51.35 376.9,51.35" fill="#a0401a"/>
<line x1="420.6" y1="47.1" x2="420.6" y2="51.6" stroke="#8a4a1a" stroke-width="0.9"/>
<line x1="418.6" y1="47.1" x2="422.6" y2="47.1" stroke="#8a4a1a" stroke-width="0.9"/>
<line x1="418.6" y1="51.6" x2="422.6" y2="51.6" stroke="#8a4a1a" stroke-width="0.9"/>
<polygon points="420.6,46.55 417.8,51.35 423.4,51.35" fill="#a0401a"/>
<line x1="467.1" y1="47.1" x2="467.1" y2="50.1" stroke="#8a4a1a" stroke-width="0.9"/>
<line x1="465.1" y1="47.1" x2="469.1" y2="47.1" stroke="#8a4a1a" stroke-width="0.9"/>
<line x1="465.1" y1="50.1" x2="469.1" y2="50.1" stroke="#8a4a1a" stroke-width="0.9"/>
<polygon points="467.1,45.8 464.3,50.6 469.9,50.6" fill="#a0401a"/>
<line x1="513.6" y1="46.35" x2="513.6" y2="50.85" stroke="#8a4a1a" stroke-width="0.9"/>
<line x1="511.6" y1="46.35" x2="515.6" y2="46.35" stroke="#8a4a1a" stroke-width="0.9"/>
<line x1="511.6" y1="50.85" x2="515.6" y2="50.85" stroke="#8a4a1a" stroke-width="0.9"/>
<polygon points="513.6,45.8 510.8,50.6 516.4,50.6" fill="#a0401a"/>
<line x1="462" y1="167.7" x2="482" y2="167.7" stroke="#222" stroke-width="1"/>
<rect x="470.3" y="165.7" width="4" height="4" fill="#222"/>
<text class="r" x="484" y="170.7" font-size="8.75" fill="#111">ZIF-8</text>
<line x1="462" y1="178.5" x2="482" y2="178.5" stroke="#1a1ae0" stroke-width="1"/>
<circle cx="472.3" cy="178.5" r="2.2" fill="#1a1ae0"/>
<text class="r" x="484" y="181.5" font-size="8.75" fill="#111">Fe/Ni</text>
<line x1="462" y1="189.3" x2="482" y2="189.3" stroke="#a0501a" stroke-width="1"/>
<polygon points="472.3,186.7 469.7,191.1 474.9,191.1" fill="#a0401a"/>
<text class="r" x="484" y="192.3" font-size="8.75" fill="#111">ZIF-8@Fe/Ni</text>
<rect x="54.8" y="243.5" width="197.7" height="160" fill="url(#cbg)"/>
<polyline points="0,309.5 60,309 95,308 105,305" fill="none" stroke="#40f0d0" stroke-width="1.2" opacity="0.7"/>
<polyline points="0,320 55,320" fill="none" stroke="#ff7ad0" stroke-width="0.8" stroke-dasharray="3,2" opacity="0.7"/>
<rect x="61.25" y="254.92" width="19.7" height="148.58" fill="url(#cbar)"/>
<rect x="61.75" y="255.42" width="2.2" height="147.58" fill="url(#cedge)"/>
<rect x="61.75" y="255.42" width="18.7" height="1.6" fill="#e2d0c6" opacity="0.8"/>
<rect x="61.75" y="400.5" width="18.7" height="2.6" fill="#9a5e96" opacity="0.85"/>
<rect x="79.15" y="255.42" width="1.3" height="147.58" fill="#b08a98" opacity="0.5"/>
<rect x="61.25" y="254.92" width="19.7" height="148.58" fill="none" stroke="#5e4c4c" stroke-width="1" rx="0.8"/>
<rect x="85.14" y="257.67" width="19.7" height="145.83" fill="url(#cbar)"/>
<rect x="85.64" y="258.17" width="2.2" height="144.83" fill="url(#cedge)"/>
<rect x="85.64" y="258.17" width="18.7" height="1.6" fill="#e2d0c6" opacity="0.8"/>
<rect x="85.64" y="400.5" width="18.7" height="2.6" fill="#9a5e96" opacity="0.85"/>
<rect x="103.04" y="258.17" width="1.3" height="144.83" fill="#b08a98" opacity="0.5"/>
<rect x="85.14" y="257.67" width="19.7" height="145.83" fill="none" stroke="#5e4c4c" stroke-width="1" rx="0.8"/>
<rect x="109.03" y="260.52" width="19.7" height="142.98" fill="url(#cbar)"/>
<rect x="109.53" y="261.02" width="2.2" height="141.98" fill="url(#cedge)"/>
<rect x="109.53" y="261.02" width="18.7" height="1.6" fill="#e2d0c6" opacity="0.8"/>
<rect x="109.53" y="400.5" width="18.7" height="2.6" fill="#9a5e96" opacity="0.85"/>
<rect x="126.93" y="261.02" width="1.3" height="141.98" fill="#b08a98" opacity="0.5"/>
<rect x="109.03" y="260.52" width="19.7" height="142.98" fill="none" stroke="#5e4c4c" stroke-width="1" rx="0.8"/>
<rect x="132.92" y="262.47" width="19.7" height="141.03" fill="url(#cbar)"/>
<rect x="133.42" y="262.97" width="2.2" height="140.03" fill="url(#cedge)"/>
<rect x="133.42" y="262.97" width="18.7" height="1.6" fill="#e2d0c6" opacity="0.8"/>
<rect x="133.42" y="400.5" width="18.7" height="2.6" fill="#9a5e96" opacity="0.85"/>
<rect x="150.82" y="262.97" width="1.3" height="140.03" fill="#b08a98" opacity="0.5"/>
<rect x="132.92" y="262.47" width="19.7" height="141.03" fill="none" stroke="#5e4c4c" stroke-width="1" rx="0.8"/>
<rect x="156.81" y="263.15" width="19.7" height="140.35" fill="url(#cbar)"/>
<rect x="157.31" y="263.65" width="2.2" height="139.35" fill="url(#cedge)"/>
<rect x="157.31" y="263.65" width="18.7" height="1.6" fill="#e2d0c6" opacity="0.8"/>
<rect x="157.31" y="400.5" width="18.7" height="2.6" fill="#9a5e96" opacity="0.85"/>
<rect x="174.71" y="263.65" width="1.3" height="139.35" fill="#b08a98" opacity="0.5"/>
<rect x="156.81" y="263.15" width="19.7" height="140.35" fill="none" stroke="#5e4c4c" stroke-width="1" rx="0.8"/>
<rect x="180.7" y="265.21" width="19.7" height="138.29" fill="url(#cbar)"/>
<rect x="181.2" y="265.71" width="2.2" height="137.29" fill="url(#cedge)"/>
<rect x="181.2" y="265.71" width="18.7" height="1.6" fill="#e2d0c6" opacity="0.8"/>
<rect x="181.2" y="400.5" width="18.7" height="2.6" fill="#9a5e96" opacity="0.85"/>
<rect x="198.6" y="265.71" width="1.3" height="137.29" fill="#b08a98" opacity="0.5"/>
<rect x="180.7" y="265.21" width="19.7" height="138.29" fill="none" stroke="#5e4c4c" stroke-width="1" rx="0.8"/>
<rect x="204.59" y="266.69" width="19.7" height="136.81" fill="url(#cbar)"/>
<rect x="205.09" y="267.19" width="2.2" height="135.81" fill="url(#cedge)"/>
<rect x="205.09" y="267.19" width="18.7" height="1.6" fill="#e2d0c6" opacity="0.8"/>
<rect x="205.09" y="400.5" width="18.7" height="2.6" fill="#9a5e96" opacity="0.85"/>
<rect x="222.49" y="267.19" width="1.3" height="135.81" fill="#b08a98" opacity="0.5"/>
<rect x="204.59" y="266.69" width="19.7" height="136.81" fill="none" stroke="#5e4c4c" stroke-width="1" rx="0.8"/>
<rect x="228.48" y="266.69" width="19.7" height="136.81" fill="url(#cbar)"/>
<rect x="228.98" y="267.19" width="2.2" height="135.81" fill="url(#cedge)"/>
<rect x="228.98" y="267.19" width="18.7" height="1.6" fill="#e2d0c6" opacity="0.8"/>
<rect x="228.98" y="400.5" width="18.7" height="2.6" fill="#9a5e96" opacity="0.85"/>
<rect x="246.38" y="267.19" width="1.3" height="135.81" fill="#b08a98" opacity="0.5"/>
<rect x="228.48" y="266.69" width="19.7" height="136.81" fill="none" stroke="#5e4c4c" stroke-width="1" rx="0.8"/>
<rect x="56" y="404" width="196" height="3.5" fill="#fde8f3"/>
<rect x="54.8" y="243.5" width="197.7" height="160" fill="none" stroke="#111" stroke-width="1.1"/>
<line x1="54.8" y1="403.5" x2="57.8" y2="403.5" stroke="#111" stroke-width="1"/>
<line x1="54.8" y1="392.07" x2="56.8" y2="392.07" stroke="#111" stroke-width="1"/>
<line x1="54.8" y1="380.64" x2="57.8" y2="380.64" stroke="#111" stroke-width="1"/>
<line x1="54.8" y1="369.21" x2="56.8" y2="369.21" stroke="#111" stroke-width="1"/>
<line x1="54.8" y1="357.78" x2="57.8" y2="357.78" stroke="#111" stroke-width="1"/>
<line x1="54.8" y1="346.36" x2="56.8" y2="346.36" stroke="#111" stroke-width="1"/>
<line x1="54.8" y1="334.93" x2="57.8" y2="334.93" stroke="#111" stroke-width="1"/>
<line x1="54.8" y1="323.5" x2="56.8" y2="323.5" stroke="#111" stroke-width="1"/>
<line x1="54.8" y1="312.07" x2="57.8" y2="312.07" stroke="#111" stroke-width="1"/>
<line x1="54.8" y1="300.64" x2="56.8" y2="300.64" stroke="#111" stroke-width="1"/>
<line x1="54.8" y1="289.21" x2="57.8" y2="289.21" stroke="#111" stroke-width="1"/>
<line x1="54.8" y1="277.78" x2="56.8" y2="277.78" stroke="#111" stroke-width="1"/>
<line x1="54.8" y1="266.35" x2="57.8" y2="266.35" stroke="#111" stroke-width="1"/>
<line x1="54.8" y1="254.92" x2="56.8" y2="254.92" stroke="#111" stroke-width="1"/>
<line x1="54.8" y1="243.49" x2="57.8" y2="243.49" stroke="#111" stroke-width="1"/>
<line x1="252.5" y1="403.5" x2="249.5" y2="403.5" stroke="#111" stroke-width="1"/>
<line x1="252.5" y1="388.25" x2="250.5" y2="388.25" stroke="#111" stroke-width="1"/>
<line x1="252.5" y1="373" x2="249.5" y2="373" stroke="#111" stroke-width="1"/>
<line x1="252.5" y1="357.75" x2="250.5" y2="357.75" stroke="#111" stroke-width="1"/>
<line x1="252.5" y1="342.5" x2="249.5" y2="342.5" stroke="#111" stroke-width="1"/>
<line x1="252.5" y1="327.25" x2="250.5" y2="327.25" stroke="#111" stroke-width="1"/>
<line x1="252.5" y1="312" x2="249.5" y2="312" stroke="#111" stroke-width="1"/>
<line x1="252.5" y1="296.75" x2="250.5" y2="296.75" stroke="#111" stroke-width="1"/>
<line x1="252.5" y1="281.5" x2="249.5" y2="281.5" stroke="#111" stroke-width="1"/>
<line x1="252.5" y1="266.25" x2="250.5" y2="266.25" stroke="#111" stroke-width="1"/>
<line x1="252.5" y1="251" x2="249.5" y2="251" stroke="#111" stroke-width="1"/>
<line x1="71.1" y1="403.5" x2="71.1" y2="400.5" stroke="#111" stroke-width="1"/>
<line x1="83.05" y1="403.5" x2="83.05" y2="401.5" stroke="#111" stroke-width="0.9"/>
<line x1="94.99" y1="403.5" x2="94.99" y2="400.5" stroke="#111" stroke-width="1"/>
<line x1="106.94" y1="403.5" x2="106.94" y2="401.5" stroke="#111" stroke-width="0.9"/>
<line x1="118.88" y1="403.5" x2="118.88" y2="400.5" stroke="#111" stroke-width="1"/>
<line x1="130.83" y1="403.5" x2="130.83" y2="401.5" stroke="#111" stroke-width="0.9"/>
<line x1="142.77" y1="403.5" x2="142.77" y2="400.5" stroke="#111" stroke-width="1"/>
<line x1="154.72" y1="403.5" x2="154.72" y2="401.5" stroke="#111" stroke-width="0.9"/>
<line x1="166.66" y1="403.5" x2="166.66" y2="400.5" stroke="#111" stroke-width="1"/>
<line x1="178.61" y1="403.5" x2="178.61" y2="401.5" stroke="#111" stroke-width="0.9"/>
<line x1="190.55" y1="403.5" x2="190.55" y2="400.5" stroke="#111" stroke-width="1"/>
<line x1="202.5" y1="403.5" x2="202.5" y2="401.5" stroke="#111" stroke-width="0.9"/>
<line x1="214.44" y1="403.5" x2="214.44" y2="400.5" stroke="#111" stroke-width="1"/>
<line x1="226.39" y1="403.5" x2="226.39" y2="401.5" stroke="#111" stroke-width="0.9"/>
<line x1="238.33" y1="403.5" x2="238.33" y2="400.5" stroke="#111" stroke-width="1"/>
<text class="rb" x="51" y="406.5" font-size="8.6" text-anchor="end" fill="#111">0</text>
<text class="rb" x="51" y="383.64" font-size="8.6" text-anchor="end" fill="#111">20</text>
<text class="rb" x="51" y="360.78" font-size="8.6" text-anchor="end" fill="#111">40</text>
<text class="rb" x="51" y="337.93" font-size="8.6" text-anchor="end" fill="#111">60</text>
<text class="rb" x="51" y="315.07" font-size="8.6" text-anchor="end" fill="#111">80</text>
<text class="rb" x="51" y="292.21" font-size="8.6" text-anchor="end" fill="#111">100</text>
<text class="rb" x="51" y="269.35" font-size="8.6" text-anchor="end" fill="#111">120</text>
<text class="rb" x="51" y="246.49" font-size="8.6" text-anchor="end" fill="#111">140</text>
<text class="rb" x="256.4" y="406.5" font-size="8.6" fill="#111">0</text>
<text class="rb" x="256.4" y="376" font-size="8.6" fill="#111">20</text>
<text class="rb" x="256.4" y="345.5" font-size="8.6" fill="#111">40</text>
<text class="rb" x="256.4" y="315" font-size="8.6" fill="#111">60</text>
<text class="rb" x="256.4" y="284.5" font-size="8.6" fill="#111">80</text>
<text class="rb" x="256.4" y="254" font-size="8.6" fill="#111">100</text>
<text class="rb" x="71.1" y="414.8" font-size="8.6" text-anchor="middle" fill="#111">1</text>
<text class="rb" x="94.99" y="414.8" font-size="8.6" text-anchor="middle" fill="#111">2</text>
<text class="rb" x="118.88" y="414.8" font-size="8.6" text-anchor="middle" fill="#111">3</text>
<text class="rb" x="142.77" y="414.8" font-size="8.6" text-anchor="middle" fill="#111">4</text>
<text class="rb" x="166.66" y="414.8" font-size="8.6" text-anchor="middle" fill="#111">5</text>
<text class="rb" x="190.55" y="414.8" font-size="8.6" text-anchor="middle" fill="#111">6</text>
<text class="rb" x="214.44" y="414.8" font-size="8.6" text-anchor="middle" fill="#111">7</text>
<text class="rb" x="238.33" y="414.8" font-size="8.6" text-anchor="middle" fill="#111">8</text>
<text class="rb" x="118" y="430.7" font-size="12" fill="#111" textLength="72" lengthAdjust="spacingAndGlyphs">Cycle number</text>
<text class="rb" x="32.4" y="323.2" font-size="11.3" text-anchor="middle" fill="#111" textLength="51" lengthAdjust="spacingAndGlyphs" transform="rotate(-90 32.4 323.2)"><tspan font-style="italic" font-size="13.5">Q</tspan><tspan font-size="7" font-style="italic" dy="2">e</tspan><tspan dy="-2"> (mg g</tspan><tspan font-size="6.5" dy="-4">-1</tspan><tspan dy="4">)</tspan></text>
<polyline points="71.1,251.1 95,254.2 118.9,257 142.8,259.6 166.7,261.3 190.6,262.7 214.4,263.4 238.3,263.4" fill="none" stroke="#a698ea" stroke-width="0.9"/>
<circle cx="71.1" cy="251.1" r="1.4" fill="#8a74dc"/>
<circle cx="95" cy="254.2" r="1.4" fill="#8a74dc"/>
<circle cx="118.9" cy="257" r="1.4" fill="#8a74dc"/>
<circle cx="142.8" cy="259.6" r="1.4" fill="#8a74dc"/>
<circle cx="166.7" cy="261.3" r="1.4" fill="#8a74dc"/>
<circle cx="190.6" cy="262.7" r="1.4" fill="#8a74dc"/>
<circle cx="214.4" cy="263.4" r="1.4" fill="#8a74dc"/>
<circle cx="238.3" cy="263.4" r="1.4" fill="#8a74dc"/>
<text class="rb" x="61.2" y="251.7" font-size="8" fill="#000" textLength="19.8" lengthAdjust="spacingAndGlyphs">100%</text>
<text class="rb" x="230.7" y="260.3" font-size="8.4" fill="#000" textLength="16.3" lengthAdjust="spacingAndGlyphs">91%</text>
<polyline points="193,302.3 280,302.3" fill="none" stroke="#50eec8" stroke-width="1" opacity="0.7"/>
<polyline points="163,330 166,320 172,314 180,313.2 250,313" fill="none" stroke="#50eec8" stroke-width="1" opacity="0.7"/>
<polyline points="175,314 280,314" fill="none" stroke="#ff7ad0" stroke-width="0.8" stroke-dasharray="3,2" opacity="0.6"/>
<polyline points="60,309.5 85,309 104.7,305" fill="none" stroke="#ff60b0" stroke-width="0.9" opacity="0.6"/>
<circle cx="309.7" cy="246.5" r="4.3" fill="url(#gzr)"/>
<text class="r" x="310.6" y="257.6" font-size="7.6" text-anchor="middle" fill="#222">Zr<tspan font-size="4.6" dy="-3.2">4+</tspan></text>
<circle cx="309" cy="266.6" r="3.6" fill="url(#gbl)"/>
<text class="r" x="310.4" y="277.7" font-size="7.5" text-anchor="middle" fill="#222">Template</text>
<rect x="295.8" y="285.2" width="29.2" height="1.6" fill="#ddd2b2"/>
<line x1="295.8" y1="285.2" x2="325" y2="285.2" stroke="#b4a478" stroke-width="0.5"/>
<line x1="295.8" y1="286.9" x2="325" y2="286.9" stroke="#c4b48a" stroke-width="0.4"/>
<text class="r" x="310.5" y="295.1" font-size="7.5" text-anchor="middle" fill="#222">Organic</text>
<text class="r" x="310.5" y="303.4" font-size="7.5" text-anchor="middle" fill="#222">ligand</text>
<rect x="333" y="281" width="3" height="6" fill="#111"/>
<polygon points="336,281 371,281 371,278.2 377.4,284 371,289.8 371,287 336,287" fill="#aed3e8" stroke="#5d87a6" stroke-width="0.6"/>
<text class="r" x="353" y="270" font-size="7.5" text-anchor="middle" fill="#222">One-pot</text>
<text class="r" x="353" y="279" font-size="7.5" text-anchor="middle" fill="#222">reaction</text>
<rect x="438" y="280" width="3" height="6" fill="#111"/>
<polygon points="441,280 472.6,280 472.6,277.2 479.3,283 472.6,288.8 472.6,286 441,286" fill="#aed3e8" stroke="#5d87a6" stroke-width="0.6"/>
<text class="r" x="456.2" y="269" font-size="7.5" text-anchor="middle" fill="#222">Template</text>
<text class="r" x="456.2" y="278.5" font-size="7.5" text-anchor="middle" fill="#222">removal</text>
<polygon points="383,256.5 404,257 404.5,303.2 384.2,291.4" fill="#e3e7db"/>
<polygon points="404,257 433.8,255.6 433.2,295.4 404.5,303.2" fill="#d9ddd0"/>
<circle cx="392.7" cy="284.1" r="2" fill="#c9cdc2"/>
<circle cx="400.5" cy="284.6" r="2" fill="#c9cdc2"/>
<circle cx="414" cy="261.5" r="2" fill="#c9cdc2"/>
<circle cx="421.4" cy="278.4" r="2" fill="#c9cdc2"/>
<circle cx="419.1" cy="286.9" r="2" fill="#c9cdc2"/>
<circle cx="413" cy="284.6" r="2" fill="#c9cdc2"/>
<circle cx="404" cy="296" r="2" fill="#c9cdc2"/>
<circle cx="430.4" cy="290.3" r="2" fill="#c9cdc2"/>
<circle cx="416" cy="271" r="2" fill="#c9cdc2"/>
<circle cx="424" cy="265" r="2" fill="#c9cdc2"/>
<circle cx="389.3" cy="257.6" r="1.9" fill="url(#gbl2)"/>
<circle cx="402.8" cy="255.9" r="1.9" fill="url(#gbl2)"/>
<circle cx="406.2" cy="258.1" r="1.9" fill="url(#gbl2)"/>
<circle cx="413" cy="255.9" r="1.9" fill="url(#gbl2)"/>
<circle cx="421.4" cy="259.3" r="1.9" fill="url(#gbl2)"/>
<circle cx="392.7" cy="263.8" r="1.9" fill="url(#gbl2)"/>
<circle cx="387.6" cy="270" r="1.9" fill="url(#gbl2)"/>
<circle cx="398.9" cy="270" r="1.9" fill="url(#gbl2)"/>
<circle cx="404.5" cy="271.1" r="1.9" fill="url(#gbl2)"/>
<circle cx="418.6" cy="269.4" r="1.9" fill="url(#gbl2)"/>
<circle cx="428.7" cy="267.7" r="1.9" fill="url(#gbl2)"/>
<circle cx="394.9" cy="277.3" r="1.9" fill="url(#gbl2)"/>
<circle cx="411.3" cy="279" r="1.9" fill="url(#gbl2)"/>
<circle cx="428.7" cy="281.8" r="1.9" fill="url(#gbl2)"/>
<circle cx="387" cy="286.9" r="1.9" fill="url(#gbl2)"/>
<circle cx="396.6" cy="289.7" r="1.9" fill="url(#gbl2)"/>
<circle cx="423.1" cy="290.8" r="1.9" fill="url(#gbl2)"/>
<circle cx="411.3" cy="293.7" r="1.9" fill="url(#gbl2)"/>
<polygon points="481.4,258.4 503,258.8 503,303.5 481.4,296.2" fill="#c3c4bc"/>
<polygon points="503,258.8 531.6,258.2 531.6,298.3 503,303.5" fill="#d9dacf"/>
<circle cx="490" cy="266" r="1.8" fill="#fdfdf8" stroke="#b4b4aa" stroke-width="0.4"/>
<circle cx="498" cy="272" r="1.8" fill="#fdfdf8" stroke="#b4b4aa" stroke-width="0.4"/>
<circle cx="487" cy="278" r="1.8" fill="#fdfdf8" stroke="#b4b4aa" stroke-width="0.4"/>
<circle cx="495" cy="286" r="1.8" fill="#fdfdf8" stroke="#b4b4aa" stroke-width="0.4"/>
<circle cx="486" cy="292" r="1.8" fill="#fdfdf8" stroke="#b4b4aa" stroke-width="0.4"/>
<circle cx="500" cy="294" r="1.8" fill="#fdfdf8" stroke="#b4b4aa" stroke-width="0.4"/>
<circle cx="510" cy="264" r="1.8" fill="#fdfdf8" stroke="#b4b4aa" stroke-width="0.4"/>
<circle cx="521" cy="263" r="1.8" fill="#fdfdf8" stroke="#b4b4aa" stroke-width="0.4"/>
<circle cx="527" cy="270" r="1.8" fill="#fdfdf8" stroke="#b4b4aa" stroke-width="0.4"/>
<circle cx="515" cy="275" r="1.8" fill="#fdfdf8" stroke="#b4b4aa" stroke-width="0.4"/>
<circle cx="524" cy="281" r="1.8" fill="#fdfdf8" stroke="#b4b4aa" stroke-width="0.4"/>
<circle cx="510" cy="287" r="1.8" fill="#fdfdf8" stroke="#b4b4aa" stroke-width="0.4"/>
<circle cx="519" cy="293" r="1.8" fill="#fdfdf8" stroke="#b4b4aa" stroke-width="0.4"/>
<circle cx="528" cy="287" r="1.8" fill="#fdfdf8" stroke="#b4b4aa" stroke-width="0.4"/>
<circle cx="506" cy="270" r="1.8" fill="#fdfdf8" stroke="#b4b4aa" stroke-width="0.4"/>
<rect x="521" y="288.8" width="6.6" height="6.6" fill="#f4dcc8" stroke="#e4a080" stroke-width="0.7" rx="2.5"/>
<path d="M527.6,292 C540,294 545,308 543,320 C541.5,330 538,335 532.5,339.5" fill="none" stroke="#8a9cab" stroke-width="2.6" stroke-linecap="round"/>
<path d="M528.5,292.8 C539.5,294.8 543.8,308 541.9,320 C540.5,329.5 537.3,334.5 532.5,338.8" fill="none" stroke="#d4e2ea" stroke-width="1.0"/>
<polygon points="526.8,343.4 528.2,336.2 536,340.2" fill="#c4e0ec" stroke="#7d9cb2" stroke-width="0.6"/>
<polygon points="468.7,353.1 478.2,353.1 471.8,364.9" fill="#9c9aa0" stroke="#a8a49a" stroke-width="0.35"/>
<polygon points="478.2,353.1 488.7,353.6 485.5,365.4" fill="#d6d6ce" stroke="#a8a49a" stroke-width="0.35"/>
<polygon points="471.8,364.9 478.2,353.1 485.5,365.4 478.2,362.9" fill="#e6ddd6" stroke="#a8a49a" stroke-width="0.35"/>
<polygon points="460,362.2 471.8,364.9 466.7,373.3 459.2,372.3" fill="#e0d2cc" stroke="#a8a49a" stroke-width="0.35"/>
<polygon points="459.2,372.3 466.7,373.3 471.4,379.9 460,382.2" fill="#8fa59d" stroke="#a8a49a" stroke-width="0.35"/>
<polygon points="496.8,362.2 485.5,365.4 488.2,374 499.1,372.6" fill="#d5d6ce" stroke="#a8a49a" stroke-width="0.35"/>
<polygon points="499.1,372.6 488.2,374 485.5,379.5 497.3,382.2" fill="#8ea79e" stroke="#a8a49a" stroke-width="0.35"/>
<polygon points="468.7,391.7 478.2,392.1 477.7,384.7 471.4,379.9" fill="#e2cbc4" stroke="#a8a49a" stroke-width="0.35"/>
<polygon points="478.2,392.1 488.2,391.3 485.5,379.5 477.7,384.7" fill="#d6dad0" stroke="#a8a49a" stroke-width="0.35"/>
<polygon points="471.8,364.9 478.2,362.9 485.5,365.4 488.2,374 485.5,379.5 477.7,384.7 471.4,379.9 466.7,373.3" fill="#d9d9cf" stroke="#a8a49a" stroke-width="0.35"/>
<polyline points="478.2,362.9 488.2,374 477.7,384.7 466.7,373.3 478.2,362.9" fill="none" stroke="#b0aca2" stroke-width="0.5"/>
<polyline points="471.8,364.9 466.7,373.3" fill="none" stroke="#7a7670" stroke-width="0.5"/>
<polyline points="478.2,362.9 471.8,364.9" fill="none" stroke="#7a7670" stroke-width="0.5"/>
<polyline points="488.7,353.6 492.7,354.1 495.9,356.6 496.8,362.2" fill="none" stroke="#a09a90" stroke-width="0.9"/>
<polyline points="495.7,356.6 501.7,350.1" fill="none" stroke="#555" stroke-width="0.8"/>
<polyline points="505.7,337.6 512.7,339.6 514.7,346.6 508.2,352.6 501.7,350.1 499.2,343.6 505.7,337.6" fill="none" stroke="#666" stroke-width="0.9"/>
<polyline points="512.7,339.6 518.2,334.1" fill="none" stroke="#555" stroke-width="0.8"/>
<polyline points="516.2,328.6 518.2,334.1 524.7,336.6" fill="none" stroke="#555" stroke-width="0.8"/>
<polyline points="508.2,352.6 510.7,357.6" fill="none" stroke="#777" stroke-width="0.8"/>
<polyline points="509.7,363.6 510.7,357.6 514.7,362.6" fill="none" stroke="#8a8a60" stroke-width="0.7"/>
<line x1="511.7" y1="357.6" x2="526.7" y2="357.6" stroke="#a8a8a8" stroke-width="1.8"/>
<circle cx="505.7" cy="337.6" r="0.95" fill="#222"/>
<circle cx="512.7" cy="339.6" r="0.95" fill="#222"/>
<circle cx="514.7" cy="346.6" r="0.95" fill="#222"/>
<circle cx="508.2" cy="352.6" r="0.95" fill="#222"/>
<circle cx="501.7" cy="350.1" r="0.95" fill="#222"/>
<circle cx="499.2" cy="343.6" r="0.95" fill="#222"/>
<circle cx="518.2" cy="334.1" r="0.95" fill="#222"/>
<circle cx="516.2" cy="328.6" r="0.95" fill="#222"/>
<circle cx="524.7" cy="336.6" r="0.95" fill="#222"/>
<circle cx="495.9" cy="356.6" r="0.95" fill="#222"/>
<circle cx="510.7" cy="357.6" r="1.3" fill="#c8c440"/>
<circle cx="509.7" cy="363.6" r="0.9" fill="#6a5a20"/>
<circle cx="514.7" cy="362.6" r="0.9" fill="#6a5a20"/>
<circle cx="527.2" cy="357.6" r="2.2" fill="#6c5cd4"/>
<circle cx="527.2" cy="357.6" r="8.3" fill="none" stroke="#8c8c8c" stroke-width="0.9"/>
<circle cx="468.7" cy="353.1" r="0.9" fill="#4e4226"/>
<circle cx="478.2" cy="351.7" r="0.9" fill="#4e4226"/>
<circle cx="478.2" cy="354.7" r="0.9" fill="#4e4226"/>
<circle cx="488.7" cy="353.6" r="0.9" fill="#4e4226"/>
<circle cx="460" cy="362.2" r="0.9" fill="#4e4226"/>
<circle cx="459.1" cy="372.2" r="0.9" fill="#4e4226"/>
<circle cx="460.9" cy="372.4" r="0.9" fill="#4e4226"/>
<circle cx="460" cy="382.2" r="0.9" fill="#4e4226"/>
<circle cx="468.7" cy="391.7" r="0.9" fill="#4e4226"/>
<circle cx="478.2" cy="390.4" r="0.9" fill="#4e4226"/>
<circle cx="478.2" cy="392.9" r="0.9" fill="#4e4226"/>
<circle cx="488.2" cy="391.3" r="0.9" fill="#4e4226"/>
<circle cx="496.8" cy="362.2" r="0.9" fill="#4e4226"/>
<circle cx="495.5" cy="372.4" r="0.9" fill="#4e4226"/>
<circle cx="499.1" cy="372.6" r="0.9" fill="#4e4226"/>
<circle cx="497.3" cy="382.2" r="0.9" fill="#4e4226"/>
<circle cx="471.8" cy="364.9" r="0.9" fill="#4e4226"/>
<circle cx="478.2" cy="362.9" r="0.9" fill="#4e4226"/>
<circle cx="485.5" cy="365.4" r="0.9" fill="#4e4226"/>
<circle cx="466.7" cy="373.3" r="0.9" fill="#4e4226"/>
<circle cx="488.2" cy="374" r="0.9" fill="#4e4226"/>
<circle cx="471.4" cy="379.9" r="0.9" fill="#4e4226"/>
<circle cx="477.7" cy="384.7" r="0.9" fill="#4e4226"/>
<circle cx="485.5" cy="379.5" r="0.9" fill="#4e4226"/>
<polygon points="315.5,355 325,355 318.6,366.8" fill="#9c9aa0" stroke="#a8a49a" stroke-width="0.35"/>
<polygon points="325,355 335.5,355.5 332.3,367.3" fill="#d6d6ce" stroke="#a8a49a" stroke-width="0.35"/>
<polygon points="318.6,366.8 325,355 332.3,367.3 325,364.8" fill="#e6ddd6" stroke="#a8a49a" stroke-width="0.35"/>
<polygon points="306.8,364.1 318.6,366.8 313.5,375.2 306,374.2" fill="#e0d2cc" stroke="#a8a49a" stroke-width="0.35"/>
<polygon points="306,374.2 313.5,375.2 318.2,381.8 306.8,384.1" fill="#8fa59d" stroke="#a8a49a" stroke-width="0.35"/>
<polygon points="343.6,364.1 332.3,367.3 335,375.9 345.9,374.5" fill="#d5d6ce" stroke="#a8a49a" stroke-width="0.35"/>
<polygon points="345.9,374.5 335,375.9 332.3,381.4 344.1,384.1" fill="#8ea79e" stroke="#a8a49a" stroke-width="0.35"/>
<polygon points="315.5,393.6 325,394 324.5,386.6 318.2,381.8" fill="#e2cbc4" stroke="#a8a49a" stroke-width="0.35"/>
<polygon points="325,394 335,393.2 332.3,381.4 324.5,386.6" fill="#d6dad0" stroke="#a8a49a" stroke-width="0.35"/>
<polygon points="318.6,366.8 325,364.8 332.3,367.3 335,375.9 332.3,381.4 324.5,386.6 318.2,381.8 313.5,375.2" fill="#d9d9cf" stroke="#a8a49a" stroke-width="0.35"/>
<polyline points="325,364.8 335,375.9 324.5,386.6 313.5,375.2 325,364.8" fill="none" stroke="#b0aca2" stroke-width="0.5"/>
<polyline points="318.6,366.8 313.5,375.2" fill="none" stroke="#7a7670" stroke-width="0.5"/>
<polyline points="325,364.8 318.6,366.8" fill="none" stroke="#7a7670" stroke-width="0.5"/>
<polyline points="335.5,355.5 339.5,356 342.7,358.5 343.6,364.1" fill="none" stroke="#a09a90" stroke-width="0.9"/>
<polyline points="342.5,358.5 348.5,352" fill="none" stroke="#555" stroke-width="0.8"/>
<polyline points="352.5,339.5 359.5,341.5 361.5,348.5 355,354.5 348.5,352 346,345.5 352.5,339.5" fill="none" stroke="#666" stroke-width="0.9"/>
<polyline points="359.5,341.5 365,336" fill="none" stroke="#555" stroke-width="0.8"/>
<polyline points="363,330.5 365,336 371.5,338.5" fill="none" stroke="#555" stroke-width="0.8"/>
<polyline points="355,354.5 357.5,359.5" fill="none" stroke="#777" stroke-width="0.8"/>
<polyline points="356.5,365.5 357.5,359.5 361.5,364.5" fill="none" stroke="#8a8a60" stroke-width="0.7"/>
<line x1="358.5" y1="359.5" x2="373.5" y2="359.5" stroke="#a8a8a8" stroke-width="1.8"/>
<circle cx="352.5" cy="339.5" r="0.95" fill="#222"/>
<circle cx="359.5" cy="341.5" r="0.95" fill="#222"/>
<circle cx="361.5" cy="348.5" r="0.95" fill="#222"/>
<circle cx="355" cy="354.5" r="0.95" fill="#222"/>
<circle cx="348.5" cy="352" r="0.95" fill="#222"/>
<circle cx="346" cy="345.5" r="0.95" fill="#222"/>
<circle cx="365" cy="336" r="0.95" fill="#222"/>
<circle cx="363" cy="330.5" r="0.95" fill="#222"/>
<circle cx="371.5" cy="338.5" r="0.95" fill="#222"/>
<circle cx="342.7" cy="358.5" r="0.95" fill="#222"/>
<circle cx="357.5" cy="359.5" r="1.3" fill="#c8c440"/>
<circle cx="356.5" cy="365.5" r="0.9" fill="#6a5a20"/>
<circle cx="361.5" cy="364.5" r="0.9" fill="#6a5a20"/>
<circle cx="374" cy="359.5" r="2.2" fill="#2a6a1e"/>
<circle cx="374" cy="359.5" r="8.3" fill="none" stroke="#7fa5a0" stroke-width="0.9"/>
<circle cx="315.5" cy="355" r="0.9" fill="#4e4226"/>
<circle cx="325" cy="353.6" r="0.9" fill="#4e4226"/>
<circle cx="325" cy="356.6" r="0.9" fill="#4e4226"/>
<circle cx="335.5" cy="355.5" r="0.9" fill="#4e4226"/>
<circle cx="306.8" cy="364.1" r="0.9" fill="#4e4226"/>
<circle cx="305.9" cy="374.1" r="0.9" fill="#4e4226"/>
<circle cx="307.7" cy="374.3" r="0.9" fill="#4e4226"/>
<circle cx="306.8" cy="384.1" r="0.9" fill="#4e4226"/>
<circle cx="315.5" cy="393.6" r="0.9" fill="#4e4226"/>
<circle cx="325" cy="392.3" r="0.9" fill="#4e4226"/>
<circle cx="325" cy="394.8" r="0.9" fill="#4e4226"/>
<circle cx="335" cy="393.2" r="0.9" fill="#4e4226"/>
<circle cx="343.6" cy="364.1" r="0.9" fill="#4e4226"/>
<circle cx="342.3" cy="374.3" r="0.9" fill="#4e4226"/>
<circle cx="345.9" cy="374.5" r="0.9" fill="#4e4226"/>
<circle cx="344.1" cy="384.1" r="0.9" fill="#4e4226"/>
<circle cx="318.6" cy="366.8" r="0.9" fill="#4e4226"/>
<circle cx="325" cy="364.8" r="0.9" fill="#4e4226"/>
<circle cx="332.3" cy="367.3" r="0.9" fill="#4e4226"/>
<circle cx="313.5" cy="375.2" r="0.9" fill="#4e4226"/>
<circle cx="335" cy="375.9" r="0.9" fill="#4e4226"/>
<circle cx="318.2" cy="381.8" r="0.9" fill="#4e4226"/>
<circle cx="324.5" cy="386.6" r="0.9" fill="#4e4226"/>
<circle cx="332.3" cy="381.4" r="0.9" fill="#4e4226"/>
<rect x="444.7" y="367.7" width="2" height="5.2" fill="#111"/>
<polygon points="444.7,367.7 393.1,367.7 393.1,365 386.5,370.3 393.1,375.6 393.1,372.9 444.7,372.9" fill="#aed3e8" stroke="#5d87a6" stroke-width="0.6"/>
<text class="r" x="416.5" y="361.1" font-size="7.6" text-anchor="middle" fill="#222" textLength="43" lengthAdjust="spacingAndGlyphs">Ag<tspan font-size="4.5" dy="-3">+</tspan><tspan dy="3">-exchange</tspan></text>
<text class="r" x="424.2" y="408.5" font-size="7.6" text-anchor="middle" fill="#222" textLength="200" lengthAdjust="spacingAndGlyphs">Atom labeling scheme: C: black; O: red; Ag: green; S: yellow; H:</text>
<text class="r" x="423.6" y="418" font-size="7.6" text-anchor="middle" fill="#222">purple; <tspan font-style="italic">Zr</tspan><tspan font-size="4.5" dy="1.5">6</tspan><tspan dy="-1.5"> cluster: grey.</tspan></text>
<rect x="62.2" y="468.26" width="23.8" height="159.14" fill="url(#hatch)" stroke="#333" stroke-width="0.9"/>
<rect x="119.1" y="472.52" width="23.8" height="154.88" fill="url(#hatch)" stroke="#333" stroke-width="0.9"/>
<rect x="176" y="476.52" width="23.8" height="150.88" fill="url(#hatch)" stroke="#333" stroke-width="0.9"/>
<rect x="232.3" y="480.19" width="23.8" height="147.21" fill="url(#hatch)" stroke="#333" stroke-width="0.9"/>
<rect x="45.6" y="460.7" width="227.1" height="166.7" fill="none" stroke="#222" stroke-width="1.2"/>
<line x1="45.6" y1="627.4" x2="48.6" y2="627.4" stroke="#222" stroke-width="0.9"/>
<line x1="45.6" y1="610.71" x2="47.6" y2="610.71" stroke="#222" stroke-width="0.9"/>
<line x1="45.6" y1="594.02" x2="48.6" y2="594.02" stroke="#222" stroke-width="0.9"/>
<line x1="45.6" y1="577.33" x2="47.6" y2="577.33" stroke="#222" stroke-width="0.9"/>
<line x1="45.6" y1="560.64" x2="48.6" y2="560.64" stroke="#222" stroke-width="0.9"/>
<line x1="45.6" y1="543.95" x2="47.6" y2="543.95" stroke="#222" stroke-width="0.9"/>
<line x1="45.6" y1="527.26" x2="48.6" y2="527.26" stroke="#222" stroke-width="0.9"/>
<line x1="45.6" y1="510.57" x2="47.6" y2="510.57" stroke="#222" stroke-width="0.9"/>
<line x1="45.6" y1="493.88" x2="48.6" y2="493.88" stroke="#222" stroke-width="0.9"/>
<line x1="45.6" y1="477.19" x2="47.6" y2="477.19" stroke="#222" stroke-width="0.9"/>
<line x1="45.6" y1="460.5" x2="48.6" y2="460.5" stroke="#222" stroke-width="0.9"/>
<line x1="74.1" y1="627.4" x2="74.1" y2="624.4" stroke="#222" stroke-width="0.9"/>
<line x1="131" y1="627.4" x2="131" y2="624.4" stroke="#222" stroke-width="0.9"/>
<line x1="187.9" y1="627.4" x2="187.9" y2="624.4" stroke="#222" stroke-width="0.9"/>
<line x1="244.2" y1="627.4" x2="244.2" y2="624.4" stroke="#222" stroke-width="0.9"/>
<text class="s" x="42.2" y="629.7" font-size="6.5" text-anchor="end" fill="#111">0</text>
<text class="s" x="42.2" y="596.32" font-size="6.5" text-anchor="end" fill="#111">4</text>
<text class="s" x="42.2" y="562.94" font-size="6.5" text-anchor="end" fill="#111">8</text>
<text class="s" x="42.2" y="529.56" font-size="6.5" text-anchor="end" fill="#111">12</text>
<text class="s" x="42.2" y="496.18" font-size="6.5" text-anchor="end" fill="#111">16</text>
<text class="s" x="42.2" y="462.8" font-size="6.5" text-anchor="end" fill="#111">20</text>
<text class="s" x="74.1" y="636.4" font-size="6.6" text-anchor="middle" fill="#111">1</text>
<text class="s" x="131" y="636.4" font-size="6.6" text-anchor="middle" fill="#111">2</text>
<text class="s" x="187.9" y="636.4" font-size="6.6" text-anchor="middle" fill="#111">3</text>
<text class="s" x="244.2" y="636.4" font-size="6.6" text-anchor="middle" fill="#111">4</text>
<text class="rb" x="28.2" y="547.6" font-size="12.2" text-anchor="middle" fill="#111" transform="rotate(-90 28.2 547.6)">q(mg sulfur/g)</text>
<text class="rb" x="121.8" y="649.5" font-size="11.7" fill="#111" textLength="67.8" lengthAdjust="spacingAndGlyphs">Recycle times</text>
<rect x="335.4" y="492.37" width="16.4" height="134.23" fill="#117511"/>
<line x1="335.8" y1="492.37" x2="335.8" y2="626.6" stroke="#2c3a0c" stroke-width="0.9"/>
<line x1="335.4" y1="492.77" x2="351.8" y2="492.77" stroke="#3a4a10" stroke-width="0.9"/>
<rect x="351.8" y="568.73" width="16.3" height="57.87" fill="#ff8c00"/>
<rect x="351.8" y="568.73" width="16.3" height="4" fill="#e0a010" opacity="0.6"/>
<line x1="367.7" y1="568.73" x2="367.7" y2="626.6" stroke="#8a4a10" stroke-width="0.8"/>
<line x1="351.8" y1="569.13" x2="368.1" y2="569.13" stroke="#d02a20" stroke-width="0.9"/>
<rect x="376.45" y="498.9" width="16.4" height="127.7" fill="#117511"/>
<line x1="376.85" y1="498.9" x2="376.85" y2="626.6" stroke="#2c3a0c" stroke-width="0.9"/>
<line x1="376.45" y1="499.3" x2="392.85" y2="499.3" stroke="#3a4a10" stroke-width="0.9"/>
<rect x="392.85" y="569.12" width="16.3" height="57.48" fill="#ff8c00"/>
<rect x="392.85" y="569.12" width="16.3" height="4" fill="#e0a010" opacity="0.6"/>
<line x1="408.75" y1="569.12" x2="408.75" y2="626.6" stroke="#8a4a10" stroke-width="0.8"/>
<line x1="392.85" y1="569.52" x2="409.15" y2="569.52" stroke="#d02a20" stroke-width="0.9"/>
<rect x="417.5" y="503.93" width="16.4" height="122.67" fill="#117511"/>
<line x1="417.9" y1="503.93" x2="417.9" y2="626.6" stroke="#2c3a0c" stroke-width="0.9"/>
<line x1="417.5" y1="504.33" x2="433.9" y2="504.33" stroke="#3a4a10" stroke-width="0.9"/>
<rect x="433.9" y="570.42" width="16.3" height="56.18" fill="#ff8c00"/>
<rect x="433.9" y="570.42" width="16.3" height="4" fill="#e0a010" opacity="0.6"/>
<line x1="449.8" y1="570.42" x2="449.8" y2="626.6" stroke="#8a4a10" stroke-width="0.8"/>
<line x1="433.9" y1="570.82" x2="450.2" y2="570.82" stroke="#d02a20" stroke-width="0.9"/>
<rect x="458.55" y="506.41" width="16.4" height="120.19" fill="#117511"/>
<line x1="458.95" y1="506.41" x2="458.95" y2="626.6" stroke="#2c3a0c" stroke-width="0.9"/>
<line x1="458.55" y1="506.81" x2="474.95" y2="506.81" stroke="#3a4a10" stroke-width="0.9"/>
<rect x="474.95" y="571.8" width="16.3" height="54.8" fill="#ff8c00"/>
<rect x="474.95" y="571.8" width="16.3" height="4" fill="#e0a010" opacity="0.6"/>
<line x1="490.85" y1="571.8" x2="490.85" y2="626.6" stroke="#8a4a10" stroke-width="0.8"/>
<line x1="474.95" y1="572.2" x2="491.25" y2="572.2" stroke="#d02a20" stroke-width="0.9"/>
<rect x="499.6" y="506.41" width="16.4" height="120.19" fill="#117511"/>
<line x1="500" y1="506.41" x2="500" y2="626.6" stroke="#2c3a0c" stroke-width="0.9"/>
<line x1="499.6" y1="506.81" x2="516" y2="506.81" stroke="#3a4a10" stroke-width="0.9"/>
<rect x="516" y="572.71" width="16.3" height="53.89" fill="#ff8c00"/>
<rect x="516" y="572.71" width="16.3" height="4" fill="#e0a010" opacity="0.6"/>
<line x1="531.9" y1="572.71" x2="531.9" y2="626.6" stroke="#8a4a10" stroke-width="0.8"/>
<line x1="516" y1="573.11" x2="532.3" y2="573.11" stroke="#d02a20" stroke-width="0.9"/>
<line x1="343.65" y1="489.75" x2="343.65" y2="494.98" stroke="#111" stroke-width="1"/>
<line x1="341.65" y1="489.75" x2="345.65" y2="489.75" stroke="#111" stroke-width="1"/>
<line x1="341.65" y1="494.98" x2="345.65" y2="494.98" stroke="#111" stroke-width="1"/>
<line x1="359.95" y1="565.46" x2="359.95" y2="571.99" stroke="#700010" stroke-width="1"/>
<line x1="357.95" y1="565.46" x2="361.95" y2="565.46" stroke="#700010" stroke-width="1"/>
<line x1="357.95" y1="571.99" x2="361.95" y2="571.99" stroke="#700010" stroke-width="1"/>
<line x1="384.7" y1="495.63" x2="384.7" y2="502.17" stroke="#111" stroke-width="1"/>
<line x1="382.7" y1="495.63" x2="386.7" y2="495.63" stroke="#111" stroke-width="1"/>
<line x1="382.7" y1="502.17" x2="386.7" y2="502.17" stroke="#111" stroke-width="1"/>
<line x1="401" y1="565.85" x2="401" y2="572.38" stroke="#700010" stroke-width="1"/>
<line x1="399" y1="565.85" x2="403" y2="565.85" stroke="#700010" stroke-width="1"/>
<line x1="399" y1="572.38" x2="403" y2="572.38" stroke="#700010" stroke-width="1"/>
<line x1="425.75" y1="500.99" x2="425.75" y2="506.87" stroke="#111" stroke-width="1"/>
<line x1="423.75" y1="500.99" x2="427.75" y2="500.99" stroke="#111" stroke-width="1"/>
<line x1="423.75" y1="506.87" x2="427.75" y2="506.87" stroke="#111" stroke-width="1"/>
<line x1="442.05" y1="567.16" x2="442.05" y2="573.69" stroke="#700010" stroke-width="1"/>
<line x1="440.05" y1="567.16" x2="444.05" y2="567.16" stroke="#700010" stroke-width="1"/>
<line x1="440.05" y1="573.69" x2="444.05" y2="573.69" stroke="#700010" stroke-width="1"/>
<line x1="466.8" y1="503.15" x2="466.8" y2="509.68" stroke="#111" stroke-width="1"/>
<line x1="464.8" y1="503.15" x2="468.8" y2="503.15" stroke="#111" stroke-width="1"/>
<line x1="464.8" y1="509.68" x2="468.8" y2="509.68" stroke="#111" stroke-width="1"/>
<line x1="483.1" y1="567.22" x2="483.1" y2="576.37" stroke="#700010" stroke-width="1"/>
<line x1="481.1" y1="567.22" x2="485.1" y2="567.22" stroke="#700010" stroke-width="1"/>
<line x1="481.1" y1="576.37" x2="485.1" y2="576.37" stroke="#700010" stroke-width="1"/>
<line x1="507.85" y1="503.15" x2="507.85" y2="509.68" stroke="#111" stroke-width="1"/>
<line x1="505.85" y1="503.15" x2="509.85" y2="503.15" stroke="#111" stroke-width="1"/>
<line x1="505.85" y1="509.68" x2="509.85" y2="509.68" stroke="#111" stroke-width="1"/>
<line x1="524.15" y1="568.47" x2="524.15" y2="576.96" stroke="#700010" stroke-width="1"/>
<line x1="522.15" y1="568.47" x2="526.15" y2="568.47" stroke="#700010" stroke-width="1"/>
<line x1="522.15" y1="576.96" x2="526.15" y2="576.96" stroke="#700010" stroke-width="1"/>
<rect x="330.8" y="463.3" width="206.4" height="163.3" fill="none" stroke="#000" stroke-width="2"/>
<line x1="330.8" y1="626.6" x2="334.8" y2="626.6" stroke="#000" stroke-width="1.2"/>
<line x1="330.8" y1="610.27" x2="333.3" y2="610.27" stroke="#000" stroke-width="1.2"/>
<line x1="330.8" y1="593.94" x2="334.8" y2="593.94" stroke="#000" stroke-width="1.2"/>
<line x1="330.8" y1="577.61" x2="333.3" y2="577.61" stroke="#000" stroke-width="1.2"/>
<line x1="330.8" y1="561.28" x2="334.8" y2="561.28" stroke="#000" stroke-width="1.2"/>
<line x1="330.8" y1="544.95" x2="333.3" y2="544.95" stroke="#000" stroke-width="1.2"/>
<line x1="330.8" y1="528.62" x2="334.8" y2="528.62" stroke="#000" stroke-width="1.2"/>
<line x1="330.8" y1="512.29" x2="333.3" y2="512.29" stroke="#000" stroke-width="1.2"/>
<line x1="330.8" y1="495.96" x2="334.8" y2="495.96" stroke="#000" stroke-width="1.2"/>
<line x1="330.8" y1="479.63" x2="333.3" y2="479.63" stroke="#000" stroke-width="1.2"/>
<line x1="330.8" y1="463.3" x2="334.8" y2="463.3" stroke="#000" stroke-width="1.2"/>
<text class="rb" x="327.5" y="629.8" font-size="9.4" text-anchor="end" fill="#111">0</text>
<text class="rb" x="327.5" y="597.14" font-size="9.4" text-anchor="end" fill="#111">50</text>
<text class="rb" x="327.5" y="564.48" font-size="9.4" text-anchor="end" fill="#111">100</text>
<text class="rb" x="327.5" y="531.82" font-size="9.4" text-anchor="end" fill="#111">150</text>
<text class="rb" x="327.5" y="499.16" font-size="9.4" text-anchor="end" fill="#111">200</text>
<text class="rb" x="327.5" y="466.5" font-size="9.4" text-anchor="end" fill="#111">250</text>
<text class="rb" x="351.8" y="638.6" font-size="9.4" text-anchor="middle" fill="#111">1</text>
<text class="rb" x="392.85" y="638.6" font-size="9.4" text-anchor="middle" fill="#111">2</text>
<text class="rb" x="433.9" y="638.6" font-size="9.4" text-anchor="middle" fill="#111">3</text>
<text class="rb" x="474.95" y="638.6" font-size="9.4" text-anchor="middle" fill="#111">4</text>
<text class="rb" x="516" y="638.6" font-size="9.4" text-anchor="middle" fill="#111">5</text>
<text class="rb" x="306.6" y="554" font-size="10" text-anchor="middle" fill="#111" textLength="46" lengthAdjust="spacingAndGlyphs" transform="rotate(-90 306.6 554)">q<tspan font-size="6.5" dy="2">e</tspan><tspan dy="-2"> (mg g</tspan><tspan font-size="6.5" dy="-4">-1</tspan><tspan dy="4">)</tspan></text>
<text class="rb" x="393.6" y="655.1" font-size="11" fill="#111" textLength="80.4" lengthAdjust="spacingAndGlyphs">Number of cycles</text>
<rect x="442.4" y="469.1" width="20.3" height="9.6" fill="#137213" stroke="#3e4a10" stroke-width="0.8"/>
<rect x="442.4" y="480.3" width="20.3" height="10.6" fill="#ff8a00" stroke="#c09000" stroke-width="0.9"/>
<text class="rb" x="465.5" y="477" font-size="9.3" fill="#111" textLength="62.8" lengthAdjust="spacingAndGlyphs">UiO-66-0.2TCA</text>
<text class="rb" x="465.5" y="488.9" font-size="9.3" fill="#111" textLength="56" lengthAdjust="spacingAndGlyphs">UiO-66-1.6AA</text>
</svg>
</body></html>
